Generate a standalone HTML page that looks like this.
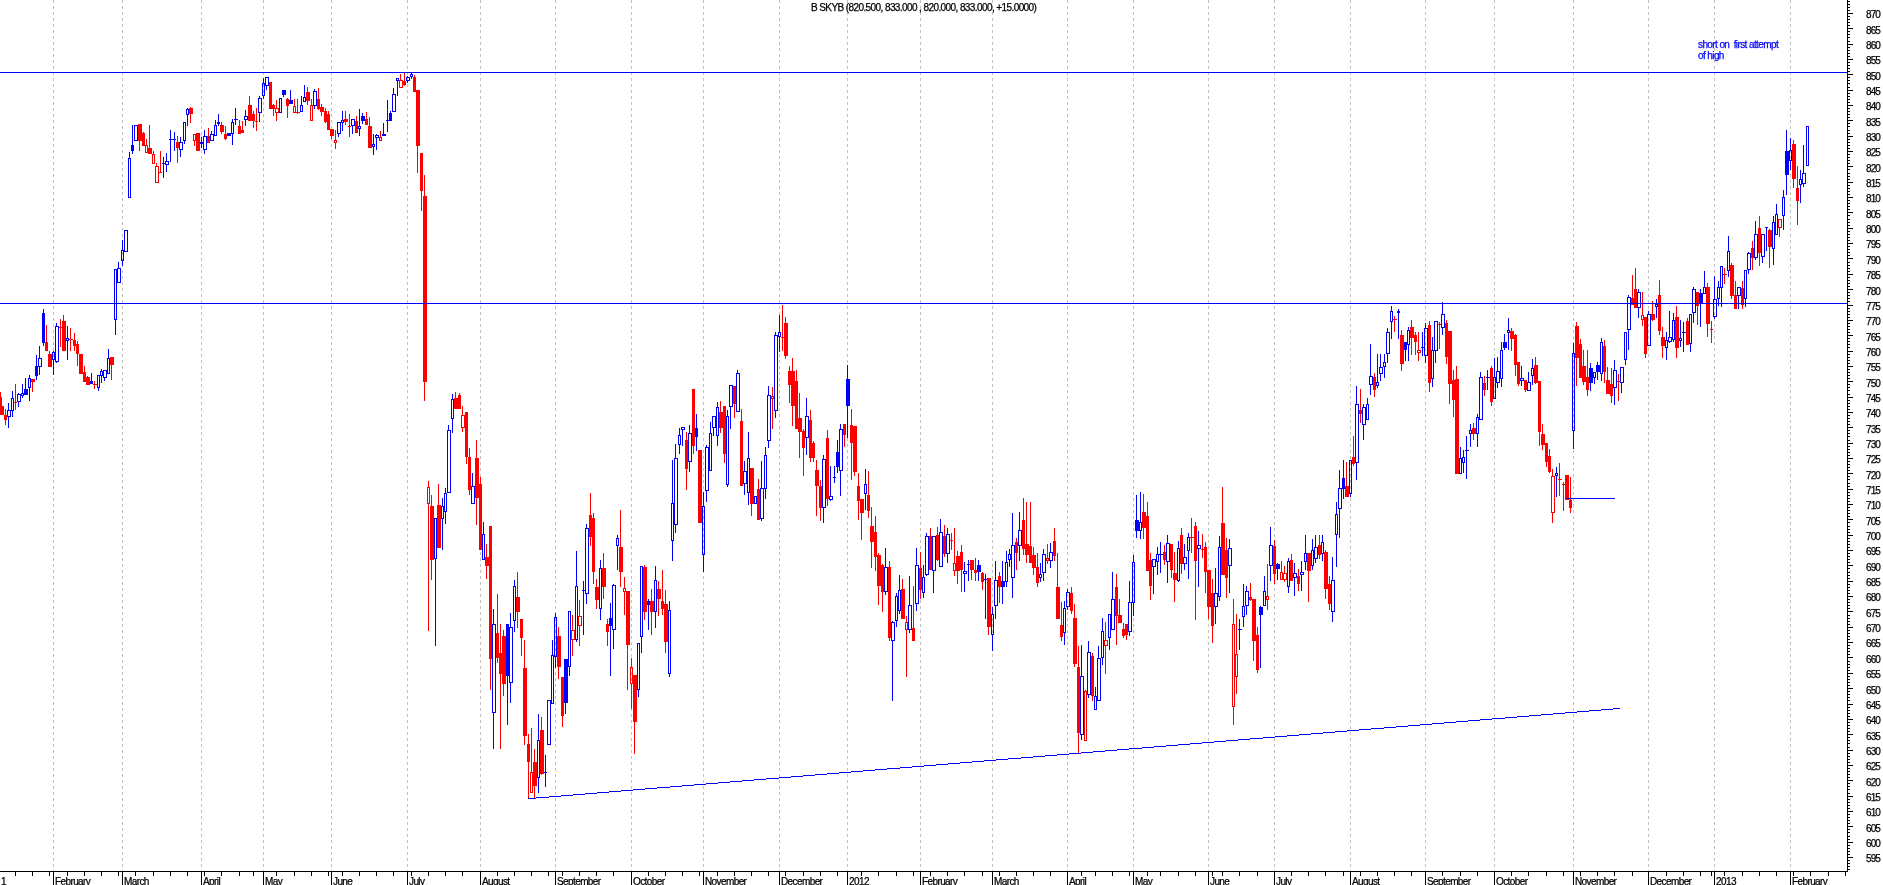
<!DOCTYPE html>
<html><head><meta charset="utf-8"><title>chart</title>
<style>
html,body{margin:0;padding:0;background:#fff;overflow:hidden;}
html{width:1883px;height:885px;}
body{width:1883px;height:885px;position:relative;overflow:hidden;font-family:"Liberation Sans",sans-serif;font-size:10px;color:#000;}
.yl,.xl,.ttl,.note{will-change:transform;-webkit-text-stroke:0.25px currentColor;}
.yl{position:absolute;left:1866px;width:17px;line-height:11px;letter-spacing:-0.9px;white-space:nowrap;}
.xl{position:absolute;top:876px;height:9px;line-height:11px;letter-spacing:-0.6px;white-space:nowrap;}
.ttl{position:absolute;left:811px;top:2px;line-height:11px;letter-spacing:-0.59px;white-space:nowrap;}
.note{position:absolute;left:1698px;top:39px;line-height:11px;letter-spacing:-0.6px;color:#0000ff;white-space:nowrap;}
</style></head><body>
<svg width="1883" height="885" viewBox="0 0 1883 885" shape-rendering="crispEdges" style="position:absolute;left:0;top:0">
<rect x="0" y="0" width="1883" height="885" fill="#fff"/>
<line x1="53.5" y1="0" x2="53.5" y2="871" stroke="#c0c0c0" stroke-width="1" stroke-dasharray="3 3"/>
<line x1="122.5" y1="0" x2="122.5" y2="871" stroke="#c0c0c0" stroke-width="1" stroke-dasharray="3 3"/>
<line x1="201.5" y1="0" x2="201.5" y2="871" stroke="#c0c0c0" stroke-width="1" stroke-dasharray="3 3"/>
<line x1="263.5" y1="0" x2="263.5" y2="871" stroke="#c0c0c0" stroke-width="1" stroke-dasharray="3 3"/>
<line x1="331.5" y1="0" x2="331.5" y2="871" stroke="#c0c0c0" stroke-width="1" stroke-dasharray="3 3"/>
<line x1="407.5" y1="0" x2="407.5" y2="871" stroke="#c0c0c0" stroke-width="1" stroke-dasharray="3 3"/>
<line x1="480.5" y1="0" x2="480.5" y2="871" stroke="#c0c0c0" stroke-width="1" stroke-dasharray="3 3"/>
<line x1="555.5" y1="0" x2="555.5" y2="871" stroke="#c0c0c0" stroke-width="1" stroke-dasharray="3 3"/>
<line x1="631.5" y1="0" x2="631.5" y2="871" stroke="#c0c0c0" stroke-width="1" stroke-dasharray="3 3"/>
<line x1="703.5" y1="0" x2="703.5" y2="871" stroke="#c0c0c0" stroke-width="1" stroke-dasharray="3 3"/>
<line x1="779.5" y1="0" x2="779.5" y2="871" stroke="#c0c0c0" stroke-width="1" stroke-dasharray="3 3"/>
<line x1="847.5" y1="0" x2="847.5" y2="871" stroke="#c0c0c0" stroke-width="1" stroke-dasharray="3 3"/>
<line x1="920.5" y1="0" x2="920.5" y2="871" stroke="#c0c0c0" stroke-width="1" stroke-dasharray="3 3"/>
<line x1="992.5" y1="0" x2="992.5" y2="871" stroke="#c0c0c0" stroke-width="1" stroke-dasharray="3 3"/>
<line x1="1067.5" y1="0" x2="1067.5" y2="871" stroke="#c0c0c0" stroke-width="1" stroke-dasharray="3 3"/>
<line x1="1133.5" y1="0" x2="1133.5" y2="871" stroke="#c0c0c0" stroke-width="1" stroke-dasharray="3 3"/>
<line x1="1208.5" y1="0" x2="1208.5" y2="871" stroke="#c0c0c0" stroke-width="1" stroke-dasharray="3 3"/>
<line x1="1274.5" y1="0" x2="1274.5" y2="871" stroke="#c0c0c0" stroke-width="1" stroke-dasharray="3 3"/>
<line x1="1350.5" y1="0" x2="1350.5" y2="871" stroke="#c0c0c0" stroke-width="1" stroke-dasharray="3 3"/>
<line x1="1425.5" y1="0" x2="1425.5" y2="871" stroke="#c0c0c0" stroke-width="1" stroke-dasharray="3 3"/>
<line x1="1494.5" y1="0" x2="1494.5" y2="871" stroke="#c0c0c0" stroke-width="1" stroke-dasharray="3 3"/>
<line x1="1573.5" y1="0" x2="1573.5" y2="871" stroke="#c0c0c0" stroke-width="1" stroke-dasharray="3 3"/>
<line x1="1648.5" y1="0" x2="1648.5" y2="871" stroke="#c0c0c0" stroke-width="1" stroke-dasharray="3 3"/>
<line x1="1714.5" y1="0" x2="1714.5" y2="871" stroke="#c0c0c0" stroke-width="1" stroke-dasharray="3 3"/>
<line x1="1790.5" y1="0" x2="1790.5" y2="871" stroke="#c0c0c0" stroke-width="1" stroke-dasharray="3 3"/>
<rect x="0" y="392" width="1" height="22" fill="#ff0000"/>
<rect x="1" y="397" width="1" height="17" fill="#ff0000"/>
<rect x="1" y="406" width="1" height="9" fill="#ff0000"/>
<rect x="0" y="406" width="4" height="9" fill="#ff0000"/>
<rect x="5" y="409" width="1" height="16" fill="#ff0000"/>
<rect x="4" y="415" width="3" height="5" fill="#ff0000"/>
<rect x="8" y="403" width="1" height="7" fill="#0000ff"/>
<rect x="8" y="417" width="1" height="11" fill="#0000ff"/>
<rect x="7.5" y="410.5" width="3" height="6" fill="none" stroke="#0000ff" stroke-width="1"/>
<rect x="12" y="391" width="1" height="7" fill="#0000ff"/>
<rect x="12" y="411" width="1" height="6" fill="#0000ff"/>
<rect x="11.5" y="398.5" width="2" height="12" fill="none" stroke="#0000ff" stroke-width="1"/>
<rect x="15" y="384" width="1" height="26" fill="#ff0000"/>
<rect x="14" y="402" width="3" height="1" fill="#ff0000"/>
<rect x="18" y="393" width="1" height="1" fill="#0000ff"/>
<rect x="18" y="402" width="1" height="5" fill="#0000ff"/>
<rect x="17.5" y="394.5" width="3" height="7" fill="none" stroke="#0000ff" stroke-width="1"/>
<rect x="22" y="384" width="1" height="9" fill="#0000ff"/>
<rect x="22" y="395" width="1" height="3" fill="#0000ff"/>
<rect x="21.5" y="393.5" width="2" height="2" fill="none" stroke="#0000ff" stroke-width="1"/>
<rect x="25" y="378" width="1" height="17" fill="#0000ff"/>
<rect x="24" y="389" width="4" height="6" fill="#0000ff"/>
<rect x="29" y="375" width="1" height="3" fill="#0000ff"/>
<rect x="29" y="388" width="1" height="13" fill="#0000ff"/>
<rect x="28.5" y="378.5" width="2" height="9" fill="none" stroke="#0000ff" stroke-width="1"/>
<rect x="32" y="379" width="1" height="13" fill="#ff0000"/>
<rect x="31" y="379" width="4" height="3" fill="#ff0000"/>
<rect x="36" y="355" width="1" height="25" fill="#0000ff"/>
<rect x="35" y="366" width="3" height="10" fill="#0000ff"/>
<rect x="39" y="346" width="1" height="12" fill="#0000ff"/>
<rect x="39" y="367" width="1" height="8" fill="#0000ff"/>
<rect x="38.5" y="358.5" width="3" height="8" fill="none" stroke="#0000ff" stroke-width="1"/>
<rect x="43" y="309" width="1" height="37" fill="#0000ff"/>
<rect x="42" y="313" width="3" height="30" fill="#0000ff"/>
<rect x="46" y="325" width="1" height="26" fill="#ff0000"/>
<rect x="45" y="342" width="3" height="9" fill="#ff0000"/>
<rect x="49" y="351" width="1" height="16" fill="#ff0000"/>
<rect x="48" y="354" width="4" height="13" fill="#ff0000"/>
<rect x="53" y="351" width="1" height="1" fill="#0000ff"/>
<rect x="53" y="360" width="1" height="15" fill="#0000ff"/>
<rect x="52.5" y="352.5" width="2" height="7" fill="none" stroke="#0000ff" stroke-width="1"/>
<rect x="56" y="323" width="1" height="3" fill="#0000ff"/>
<rect x="56" y="362" width="1" height="1" fill="#0000ff"/>
<rect x="55.5" y="326.5" width="3" height="35" fill="none" stroke="#0000ff" stroke-width="1"/>
<rect x="60" y="319" width="1" height="28" fill="#ff0000"/>
<rect x="59" y="327" width="3" height="1" fill="#ff0000"/>
<rect x="63" y="315" width="1" height="36" fill="#ff0000"/>
<rect x="62" y="321" width="4" height="30" fill="#ff0000"/>
<rect x="67" y="326" width="1" height="12" fill="#0000ff"/>
<rect x="67" y="341" width="1" height="19" fill="#0000ff"/>
<rect x="66.5" y="338.5" width="2" height="2" fill="none" stroke="#0000ff" stroke-width="1"/>
<rect x="70" y="328" width="1" height="23" fill="#ff0000"/>
<rect x="69" y="339" width="4" height="1" fill="#ff0000"/>
<rect x="74" y="333" width="1" height="18" fill="#ff0000"/>
<rect x="73" y="340" width="3" height="6" fill="#ff0000"/>
<rect x="77" y="341" width="1" height="25" fill="#ff0000"/>
<rect x="76" y="344" width="3" height="10" fill="#ff0000"/>
<rect x="80" y="354" width="1" height="20" fill="#ff0000"/>
<rect x="79" y="354" width="4" height="20" fill="#ff0000"/>
<rect x="84" y="366" width="1" height="16" fill="#ff0000"/>
<rect x="83" y="372" width="3" height="10" fill="#ff0000"/>
<rect x="87" y="376" width="1" height="9" fill="#ff0000"/>
<rect x="86" y="377" width="4" height="8" fill="#ff0000"/>
<rect x="91" y="373" width="1" height="11" fill="#0000ff"/>
<rect x="90" y="381" width="3" height="3" fill="#0000ff"/>
<rect x="94" y="381" width="1" height="8" fill="#ff0000"/>
<rect x="93" y="384" width="4" height="1" fill="#ff0000"/>
<rect x="98" y="388" width="1" height="3" fill="#0000ff"/>
<rect x="97.5" y="375.5" width="2" height="12" fill="none" stroke="#0000ff" stroke-width="1"/>
<rect x="101" y="369" width="1" height="2" fill="#0000ff"/>
<rect x="101" y="376" width="1" height="7" fill="#0000ff"/>
<rect x="100.5" y="371.5" width="2" height="4" fill="none" stroke="#0000ff" stroke-width="1"/>
<rect x="104" y="378" width="1" height="3" fill="#0000ff"/>
<rect x="103.5" y="370.5" width="3" height="7" fill="none" stroke="#0000ff" stroke-width="1"/>
<rect x="108" y="349" width="1" height="9" fill="#0000ff"/>
<rect x="107.5" y="358.5" width="2" height="15" fill="none" stroke="#0000ff" stroke-width="1"/>
<rect x="111" y="357" width="1" height="23" fill="#ff0000"/>
<rect x="110" y="357" width="4" height="8" fill="#ff0000"/>
<rect x="115" y="320" width="1" height="15" fill="#0000ff"/>
<rect x="114.5" y="269.5" width="2" height="50" fill="none" stroke="#0000ff" stroke-width="1"/>
<rect x="118" y="262" width="1" height="6" fill="#0000ff"/>
<rect x="117.5" y="268.5" width="3" height="14" fill="none" stroke="#0000ff" stroke-width="1"/>
<rect x="122" y="240" width="1" height="10" fill="#0000ff"/>
<rect x="122" y="261" width="1" height="5" fill="#0000ff"/>
<rect x="121.5" y="250.5" width="2" height="10" fill="none" stroke="#0000ff" stroke-width="1"/>
<rect x="124.5" y="230.5" width="3" height="21" fill="none" stroke="#0000ff" stroke-width="1"/>
<rect x="129" y="152" width="1" height="6" fill="#0000ff"/>
<rect x="128.5" y="158.5" width="2" height="39" fill="none" stroke="#0000ff" stroke-width="1"/>
<rect x="132" y="125" width="1" height="29" fill="#0000ff"/>
<rect x="131" y="145" width="3" height="6" fill="#0000ff"/>
<rect x="134.5" y="125.5" width="3" height="15" fill="none" stroke="#0000ff" stroke-width="1"/>
<rect x="139" y="124" width="1" height="27" fill="#ff0000"/>
<rect x="138" y="124" width="4" height="17" fill="#ff0000"/>
<rect x="143" y="132" width="1" height="14" fill="#ff0000"/>
<rect x="142" y="133" width="3" height="13" fill="#ff0000"/>
<rect x="146" y="139" width="1" height="6" fill="#ff0000"/>
<rect x="145.5" y="145.5" width="2" height="7" fill="none" stroke="#ff0000" stroke-width="1"/>
<rect x="149" y="125" width="1" height="29" fill="#ff0000"/>
<rect x="148" y="148" width="4" height="6" fill="#ff0000"/>
<rect x="153" y="151" width="1" height="3" fill="#ff0000"/>
<rect x="152.5" y="154.5" width="2" height="9" fill="none" stroke="#ff0000" stroke-width="1"/>
<rect x="156" y="163" width="1" height="3" fill="#ff0000"/>
<rect x="155.5" y="166.5" width="3" height="16" fill="none" stroke="#ff0000" stroke-width="1"/>
<rect x="160" y="151" width="1" height="22" fill="#ff0000"/>
<rect x="159" y="172" width="3" height="1" fill="#ff0000"/>
<rect x="163" y="157" width="1" height="21" fill="#0000ff"/>
<rect x="162" y="163" width="3" height="1" fill="#0000ff"/>
<rect x="166" y="153" width="1" height="8" fill="#0000ff"/>
<rect x="166" y="165" width="1" height="7" fill="#0000ff"/>
<rect x="165.5" y="161.5" width="3" height="3" fill="none" stroke="#0000ff" stroke-width="1"/>
<rect x="170" y="130" width="1" height="32" fill="#0000ff"/>
<rect x="169" y="139" width="4" height="1" fill="#0000ff"/>
<rect x="174" y="132" width="1" height="19" fill="#0000ff"/>
<rect x="173" y="139" width="3" height="1" fill="#0000ff"/>
<rect x="177" y="136" width="1" height="27" fill="#ff0000"/>
<rect x="176" y="142" width="3" height="6" fill="#ff0000"/>
<rect x="180" y="137" width="1" height="5" fill="#0000ff"/>
<rect x="180" y="150" width="1" height="7" fill="#0000ff"/>
<rect x="179.5" y="142.5" width="3" height="7" fill="none" stroke="#0000ff" stroke-width="1"/>
<rect x="184" y="141" width="1" height="3" fill="#0000ff"/>
<rect x="183.5" y="122.5" width="2" height="18" fill="none" stroke="#0000ff" stroke-width="1"/>
<rect x="187" y="108" width="1" height="1" fill="#0000ff"/>
<rect x="187" y="115" width="1" height="11" fill="#0000ff"/>
<rect x="186.5" y="109.5" width="2" height="5" fill="none" stroke="#0000ff" stroke-width="1"/>
<rect x="190" y="107" width="1" height="16" fill="#ff0000"/>
<rect x="189" y="108" width="4" height="6" fill="#ff0000"/>
<rect x="194" y="141" width="1" height="5" fill="#ff0000"/>
<rect x="193.5" y="134.5" width="2" height="6" fill="none" stroke="#ff0000" stroke-width="1"/>
<rect x="197" y="133" width="1" height="18" fill="#ff0000"/>
<rect x="196" y="133" width="4" height="18" fill="#ff0000"/>
<rect x="201" y="137" width="1" height="11" fill="#0000ff"/>
<rect x="200" y="142" width="3" height="2" fill="#0000ff"/>
<rect x="204" y="130" width="1" height="6" fill="#0000ff"/>
<rect x="204" y="150" width="1" height="4" fill="#0000ff"/>
<rect x="203.5" y="136.5" width="3" height="13" fill="none" stroke="#0000ff" stroke-width="1"/>
<rect x="208" y="128" width="1" height="15" fill="#ff0000"/>
<rect x="207" y="136" width="3" height="7" fill="#ff0000"/>
<rect x="211" y="131" width="1" height="3" fill="#0000ff"/>
<rect x="210.5" y="134.5" width="3" height="6" fill="none" stroke="#0000ff" stroke-width="1"/>
<rect x="215" y="120" width="1" height="5" fill="#0000ff"/>
<rect x="214.5" y="125.5" width="2" height="10" fill="none" stroke="#0000ff" stroke-width="1"/>
<rect x="218" y="114" width="1" height="12" fill="#0000ff"/>
<rect x="217" y="122" width="3" height="2" fill="#0000ff"/>
<rect x="221" y="122" width="1" height="12" fill="#ff0000"/>
<rect x="220" y="125" width="4" height="7" fill="#ff0000"/>
<rect x="225" y="126" width="1" height="14" fill="#ff0000"/>
<rect x="224" y="134" width="3" height="5" fill="#ff0000"/>
<rect x="228" y="133" width="1" height="3" fill="#0000ff"/>
<rect x="227" y="133" width="4" height="3" fill="#0000ff"/>
<rect x="232" y="119" width="1" height="3" fill="#0000ff"/>
<rect x="232" y="134" width="1" height="11" fill="#0000ff"/>
<rect x="231.5" y="122.5" width="2" height="11" fill="none" stroke="#0000ff" stroke-width="1"/>
<rect x="235" y="108" width="1" height="17" fill="#0000ff"/>
<rect x="234" y="119" width="4" height="1" fill="#0000ff"/>
<rect x="239" y="120" width="1" height="14" fill="#ff0000"/>
<rect x="238" y="126" width="3" height="8" fill="#ff0000"/>
<rect x="242" y="121" width="1" height="12" fill="#ff0000"/>
<rect x="241" y="130" width="3" height="3" fill="#ff0000"/>
<rect x="245" y="110" width="1" height="6" fill="#0000ff"/>
<rect x="245" y="120" width="1" height="6" fill="#0000ff"/>
<rect x="244.5" y="116.5" width="3" height="3" fill="none" stroke="#0000ff" stroke-width="1"/>
<rect x="249" y="96" width="1" height="25" fill="#ff0000"/>
<rect x="248" y="105" width="4" height="16" fill="#ff0000"/>
<rect x="253" y="111" width="1" height="17" fill="#ff0000"/>
<rect x="252" y="114" width="3" height="7" fill="#ff0000"/>
<rect x="256" y="108" width="1" height="23" fill="#ff0000"/>
<rect x="255" y="121" width="3" height="1" fill="#ff0000"/>
<rect x="259" y="96" width="1" height="2" fill="#0000ff"/>
<rect x="259" y="113" width="1" height="9" fill="#0000ff"/>
<rect x="258.5" y="98.5" width="3" height="14" fill="none" stroke="#0000ff" stroke-width="1"/>
<rect x="263" y="78" width="1" height="5" fill="#0000ff"/>
<rect x="263" y="96" width="1" height="3" fill="#0000ff"/>
<rect x="262.5" y="83.5" width="2" height="12" fill="none" stroke="#0000ff" stroke-width="1"/>
<rect x="266" y="86" width="1" height="4" fill="#0000ff"/>
<rect x="265.5" y="77.5" width="3" height="8" fill="none" stroke="#0000ff" stroke-width="1"/>
<rect x="270" y="82" width="1" height="27" fill="#ff0000"/>
<rect x="269" y="82" width="3" height="27" fill="#ff0000"/>
<rect x="273" y="104" width="1" height="12" fill="#ff0000"/>
<rect x="272" y="105" width="3" height="4" fill="#ff0000"/>
<rect x="276" y="100" width="1" height="8" fill="#ff0000"/>
<rect x="276" y="113" width="1" height="8" fill="#ff0000"/>
<rect x="275.5" y="108.5" width="3" height="4" fill="none" stroke="#ff0000" stroke-width="1"/>
<rect x="279.5" y="98.5" width="2" height="14" fill="none" stroke="#0000ff" stroke-width="1"/>
<rect x="283" y="90" width="1" height="7" fill="#0000ff"/>
<rect x="282" y="90" width="4" height="5" fill="#0000ff"/>
<rect x="287" y="98" width="1" height="20" fill="#ff0000"/>
<rect x="286" y="99" width="3" height="7" fill="#ff0000"/>
<rect x="290" y="90" width="1" height="14" fill="#0000ff"/>
<rect x="289" y="100" width="4" height="4" fill="#0000ff"/>
<rect x="294" y="99" width="1" height="7" fill="#ff0000"/>
<rect x="293.5" y="106.5" width="2" height="6" fill="none" stroke="#ff0000" stroke-width="1"/>
<rect x="297" y="99" width="1" height="15" fill="#ff0000"/>
<rect x="296" y="112" width="4" height="1" fill="#ff0000"/>
<rect x="301" y="96" width="1" height="9" fill="#0000ff"/>
<rect x="300.5" y="105.5" width="2" height="6" fill="none" stroke="#0000ff" stroke-width="1"/>
<rect x="304" y="85" width="1" height="12" fill="#0000ff"/>
<rect x="303.5" y="97.5" width="2" height="4" fill="none" stroke="#0000ff" stroke-width="1"/>
<rect x="307" y="87" width="1" height="18" fill="#ff0000"/>
<rect x="306" y="92" width="4" height="9" fill="#ff0000"/>
<rect x="311" y="99" width="1" height="6" fill="#ff0000"/>
<rect x="310.5" y="105.5" width="2" height="15" fill="none" stroke="#ff0000" stroke-width="1"/>
<rect x="314" y="89" width="1" height="2" fill="#0000ff"/>
<rect x="314" y="106" width="1" height="3" fill="#0000ff"/>
<rect x="313.5" y="91.5" width="3" height="14" fill="none" stroke="#0000ff" stroke-width="1"/>
<rect x="318" y="88" width="1" height="22" fill="#ff0000"/>
<rect x="317" y="99" width="3" height="10" fill="#ff0000"/>
<rect x="321" y="104" width="1" height="12" fill="#ff0000"/>
<rect x="320" y="107" width="4" height="5" fill="#ff0000"/>
<rect x="325" y="108" width="1" height="15" fill="#ff0000"/>
<rect x="324" y="111" width="3" height="11" fill="#ff0000"/>
<rect x="328" y="111" width="1" height="19" fill="#ff0000"/>
<rect x="327" y="114" width="3" height="16" fill="#ff0000"/>
<rect x="331" y="129" width="1" height="10" fill="#ff0000"/>
<rect x="330" y="129" width="4" height="7" fill="#ff0000"/>
<rect x="335" y="130" width="1" height="10" fill="#ff0000"/>
<rect x="335" y="143" width="1" height="6" fill="#ff0000"/>
<rect x="334.5" y="140.5" width="2" height="2" fill="none" stroke="#ff0000" stroke-width="1"/>
<rect x="338" y="134" width="1" height="3" fill="#0000ff"/>
<rect x="337.5" y="122.5" width="3" height="11" fill="none" stroke="#0000ff" stroke-width="1"/>
<rect x="342" y="111" width="1" height="9" fill="#0000ff"/>
<rect x="342" y="123" width="1" height="8" fill="#0000ff"/>
<rect x="341.5" y="120.5" width="2" height="2" fill="none" stroke="#0000ff" stroke-width="1"/>
<rect x="345" y="111" width="1" height="14" fill="#ff0000"/>
<rect x="344" y="119" width="4" height="3" fill="#ff0000"/>
<rect x="349" y="114" width="1" height="23" fill="#ff0000"/>
<rect x="348" y="126" width="3" height="1" fill="#ff0000"/>
<rect x="352" y="126" width="1" height="8" fill="#0000ff"/>
<rect x="351.5" y="119.5" width="3" height="6" fill="none" stroke="#0000ff" stroke-width="1"/>
<rect x="356" y="116" width="1" height="17" fill="#ff0000"/>
<rect x="355" y="121" width="3" height="12" fill="#ff0000"/>
<rect x="359" y="109" width="1" height="17" fill="#0000ff"/>
<rect x="359" y="128" width="1" height="8" fill="#0000ff"/>
<rect x="358.5" y="126.5" width="2" height="2" fill="none" stroke="#0000ff" stroke-width="1"/>
<rect x="362" y="113" width="1" height="11" fill="#0000ff"/>
<rect x="361" y="116" width="4" height="5" fill="#0000ff"/>
<rect x="366" y="112" width="1" height="13" fill="#ff0000"/>
<rect x="365" y="119" width="3" height="6" fill="#ff0000"/>
<rect x="369" y="117" width="1" height="31" fill="#ff0000"/>
<rect x="368" y="126" width="4" height="22" fill="#ff0000"/>
<rect x="373" y="134" width="1" height="10" fill="#0000ff"/>
<rect x="373" y="147" width="1" height="8" fill="#0000ff"/>
<rect x="372.5" y="144.5" width="2" height="2" fill="none" stroke="#0000ff" stroke-width="1"/>
<rect x="376" y="134" width="1" height="1" fill="#0000ff"/>
<rect x="376" y="138" width="1" height="12" fill="#0000ff"/>
<rect x="375.5" y="135.5" width="3" height="2" fill="none" stroke="#0000ff" stroke-width="1"/>
<rect x="380" y="131" width="1" height="6" fill="#ff0000"/>
<rect x="379.5" y="137.5" width="2" height="3" fill="none" stroke="#ff0000" stroke-width="1"/>
<rect x="383" y="123" width="1" height="13" fill="#0000ff"/>
<rect x="382" y="134" width="4" height="2" fill="#0000ff"/>
<rect x="387" y="100" width="1" height="32" fill="#0000ff"/>
<rect x="386" y="120" width="3" height="1" fill="#0000ff"/>
<rect x="390" y="111" width="1" height="10" fill="#0000ff"/>
<rect x="389" y="113" width="3" height="8" fill="#0000ff"/>
<rect x="393" y="88" width="1" height="6" fill="#0000ff"/>
<rect x="392.5" y="94.5" width="3" height="17" fill="none" stroke="#0000ff" stroke-width="1"/>
<rect x="397" y="81" width="1" height="15" fill="#0000ff"/>
<rect x="396.5" y="78.5" width="2" height="2" fill="none" stroke="#0000ff" stroke-width="1"/>
<rect x="400" y="74" width="1" height="6" fill="#ff0000"/>
<rect x="399.5" y="80.5" width="3" height="7" fill="none" stroke="#ff0000" stroke-width="1"/>
<rect x="404" y="73" width="1" height="13" fill="#ff0000"/>
<rect x="403" y="81" width="3" height="4" fill="#ff0000"/>
<rect x="407" y="76" width="1" height="1" fill="#0000ff"/>
<rect x="407" y="81" width="1" height="2" fill="#0000ff"/>
<rect x="406.5" y="77.5" width="3" height="3" fill="none" stroke="#0000ff" stroke-width="1"/>
<rect x="411" y="73" width="1" height="1" fill="#0000ff"/>
<rect x="411" y="77" width="1" height="2" fill="#0000ff"/>
<rect x="410.5" y="74.5" width="2" height="2" fill="none" stroke="#0000ff" stroke-width="1"/>
<rect x="414" y="75" width="1" height="17" fill="#ff0000"/>
<rect x="413" y="77" width="3" height="15" fill="#ff0000"/>
<rect x="417" y="90" width="1" height="83" fill="#ff0000"/>
<rect x="416" y="90" width="4" height="56" fill="#ff0000"/>
<rect x="421" y="153" width="1" height="58" fill="#ff0000"/>
<rect x="420" y="153" width="3" height="38" fill="#ff0000"/>
<rect x="424" y="175" width="1" height="226" fill="#ff0000"/>
<rect x="423" y="196" width="4" height="186" fill="#ff0000"/>
<rect x="428" y="481" width="1" height="6" fill="#ff0000"/>
<rect x="428" y="504" width="1" height="127" fill="#ff0000"/>
<rect x="427.5" y="487.5" width="2" height="16" fill="none" stroke="#ff0000" stroke-width="1"/>
<rect x="431" y="495" width="1" height="85" fill="#ff0000"/>
<rect x="430" y="506" width="4" height="54" fill="#ff0000"/>
<rect x="435" y="559" width="1" height="87" fill="#0000ff"/>
<rect x="434.5" y="518.5" width="2" height="40" fill="none" stroke="#0000ff" stroke-width="1"/>
<rect x="438" y="484" width="1" height="64" fill="#ff0000"/>
<rect x="437" y="505" width="4" height="43" fill="#ff0000"/>
<rect x="442" y="498" width="1" height="8" fill="#0000ff"/>
<rect x="442" y="519" width="1" height="31" fill="#0000ff"/>
<rect x="441.5" y="506.5" width="2" height="12" fill="none" stroke="#0000ff" stroke-width="1"/>
<rect x="445" y="488" width="1" height="5" fill="#0000ff"/>
<rect x="445" y="512" width="1" height="12" fill="#0000ff"/>
<rect x="444.5" y="493.5" width="2" height="18" fill="none" stroke="#0000ff" stroke-width="1"/>
<rect x="448" y="425" width="1" height="5" fill="#0000ff"/>
<rect x="447.5" y="430.5" width="3" height="62" fill="none" stroke="#0000ff" stroke-width="1"/>
<rect x="452" y="394" width="1" height="5" fill="#0000ff"/>
<rect x="452" y="419" width="1" height="14" fill="#0000ff"/>
<rect x="451.5" y="399.5" width="2" height="19" fill="none" stroke="#0000ff" stroke-width="1"/>
<rect x="455" y="392" width="1" height="17" fill="#ff0000"/>
<rect x="454" y="398" width="4" height="11" fill="#ff0000"/>
<rect x="459" y="393" width="1" height="16" fill="#ff0000"/>
<rect x="458" y="395" width="3" height="14" fill="#ff0000"/>
<rect x="462" y="406" width="1" height="9" fill="#ff0000"/>
<rect x="462" y="428" width="1" height="4" fill="#ff0000"/>
<rect x="461.5" y="415.5" width="3" height="12" fill="none" stroke="#ff0000" stroke-width="1"/>
<rect x="466" y="412" width="1" height="52" fill="#ff0000"/>
<rect x="465" y="412" width="3" height="45" fill="#ff0000"/>
<rect x="469" y="448" width="1" height="47" fill="#ff0000"/>
<rect x="468" y="457" width="3" height="33" fill="#ff0000"/>
<rect x="472" y="473" width="1" height="13" fill="#0000ff"/>
<rect x="471.5" y="486.5" width="3" height="17" fill="none" stroke="#0000ff" stroke-width="1"/>
<rect x="476" y="440" width="1" height="85" fill="#ff0000"/>
<rect x="475" y="458" width="4" height="40" fill="#ff0000"/>
<rect x="480" y="477" width="1" height="73" fill="#ff0000"/>
<rect x="479" y="484" width="3" height="66" fill="#ff0000"/>
<rect x="483" y="522" width="1" height="12" fill="#0000ff"/>
<rect x="482.5" y="534.5" width="2" height="25" fill="none" stroke="#0000ff" stroke-width="1"/>
<rect x="486" y="544" width="1" height="35" fill="#ff0000"/>
<rect x="485" y="557" width="4" height="9" fill="#ff0000"/>
<rect x="490" y="526" width="1" height="164" fill="#ff0000"/>
<rect x="489" y="526" width="3" height="133" fill="#ff0000"/>
<rect x="493" y="609" width="1" height="15" fill="#0000ff"/>
<rect x="493" y="713" width="1" height="36" fill="#0000ff"/>
<rect x="492.5" y="624.5" width="3" height="88" fill="none" stroke="#0000ff" stroke-width="1"/>
<rect x="497" y="594" width="1" height="69" fill="#ff0000"/>
<rect x="496" y="633" width="3" height="25" fill="#ff0000"/>
<rect x="500" y="624" width="1" height="125" fill="#ff0000"/>
<rect x="499" y="653" width="3" height="21" fill="#ff0000"/>
<rect x="503" y="630" width="1" height="66" fill="#ff0000"/>
<rect x="502" y="636" width="4" height="48" fill="#ff0000"/>
<rect x="507" y="624" width="1" height="101" fill="#0000ff"/>
<rect x="506" y="624" width="3" height="52" fill="#0000ff"/>
<rect x="510" y="613" width="1" height="14" fill="#0000ff"/>
<rect x="510" y="683" width="1" height="20" fill="#0000ff"/>
<rect x="509.5" y="627.5" width="3" height="55" fill="none" stroke="#0000ff" stroke-width="1"/>
<rect x="514" y="580" width="1" height="6" fill="#0000ff"/>
<rect x="514" y="621" width="1" height="11" fill="#0000ff"/>
<rect x="513.5" y="586.5" width="2" height="34" fill="none" stroke="#0000ff" stroke-width="1"/>
<rect x="517" y="572" width="1" height="56" fill="#ff0000"/>
<rect x="516" y="597" width="4" height="15" fill="#ff0000"/>
<rect x="521" y="619" width="1" height="37" fill="#ff0000"/>
<rect x="520" y="619" width="3" height="19" fill="#ff0000"/>
<rect x="524" y="640" width="1" height="105" fill="#ff0000"/>
<rect x="523" y="668" width="4" height="68" fill="#ff0000"/>
<rect x="528" y="734" width="1" height="65" fill="#ff0000"/>
<rect x="527" y="744" width="3" height="18" fill="#ff0000"/>
<rect x="531" y="728" width="1" height="44" fill="#ff0000"/>
<rect x="530.5" y="772.5" width="2" height="20" fill="none" stroke="#ff0000" stroke-width="1"/>
<rect x="534" y="749" width="1" height="50" fill="#ff0000"/>
<rect x="533" y="762" width="4" height="24" fill="#ff0000"/>
<rect x="538" y="714" width="1" height="26" fill="#0000ff"/>
<rect x="538" y="778" width="1" height="15" fill="#0000ff"/>
<rect x="537.5" y="740.5" width="2" height="37" fill="none" stroke="#0000ff" stroke-width="1"/>
<rect x="541" y="717" width="1" height="58" fill="#ff0000"/>
<rect x="540" y="730" width="4" height="44" fill="#ff0000"/>
<rect x="545" y="755" width="1" height="32" fill="#0000ff"/>
<rect x="544" y="772" width="3" height="1" fill="#0000ff"/>
<rect x="547.5" y="700.5" width="3" height="44" fill="none" stroke="#0000ff" stroke-width="1"/>
<rect x="552" y="640" width="1" height="15" fill="#0000ff"/>
<rect x="551.5" y="655.5" width="2" height="48" fill="none" stroke="#0000ff" stroke-width="1"/>
<rect x="555" y="613" width="1" height="4" fill="#0000ff"/>
<rect x="555" y="657" width="1" height="11" fill="#0000ff"/>
<rect x="554.5" y="617.5" width="2" height="39" fill="none" stroke="#0000ff" stroke-width="1"/>
<rect x="558" y="627" width="1" height="52" fill="#ff0000"/>
<rect x="557" y="636" width="4" height="31" fill="#ff0000"/>
<rect x="562" y="677" width="1" height="50" fill="#ff0000"/>
<rect x="561" y="677" width="3" height="39" fill="#ff0000"/>
<rect x="565" y="659" width="1" height="55" fill="#0000ff"/>
<rect x="564" y="659" width="4" height="44" fill="#0000ff"/>
<rect x="569" y="667" width="1" height="9" fill="#0000ff"/>
<rect x="568.5" y="611.5" width="2" height="55" fill="none" stroke="#0000ff" stroke-width="1"/>
<rect x="572" y="615" width="1" height="15" fill="#ff0000"/>
<rect x="572" y="640" width="1" height="16" fill="#ff0000"/>
<rect x="571.5" y="630.5" width="3" height="9" fill="none" stroke="#ff0000" stroke-width="1"/>
<rect x="576" y="551" width="1" height="35" fill="#0000ff"/>
<rect x="576" y="640" width="1" height="2" fill="#0000ff"/>
<rect x="575.5" y="586.5" width="2" height="53" fill="none" stroke="#0000ff" stroke-width="1"/>
<rect x="579" y="600" width="1" height="16" fill="#ff0000"/>
<rect x="579" y="626" width="1" height="20" fill="#ff0000"/>
<rect x="578.5" y="616.5" width="3" height="9" fill="none" stroke="#ff0000" stroke-width="1"/>
<rect x="583" y="581" width="1" height="54" fill="#0000ff"/>
<rect x="582" y="590" width="3" height="1" fill="#0000ff"/>
<rect x="586" y="524" width="1" height="4" fill="#0000ff"/>
<rect x="586" y="594" width="1" height="10" fill="#0000ff"/>
<rect x="585.5" y="528.5" width="3" height="65" fill="none" stroke="#0000ff" stroke-width="1"/>
<rect x="590" y="493" width="1" height="53" fill="#ff0000"/>
<rect x="589" y="515" width="3" height="22" fill="#ff0000"/>
<rect x="593" y="513" width="1" height="71" fill="#ff0000"/>
<rect x="592" y="518" width="3" height="54" fill="#ff0000"/>
<rect x="596" y="579" width="1" height="30" fill="#ff0000"/>
<rect x="595" y="587" width="4" height="13" fill="#ff0000"/>
<rect x="600" y="560" width="1" height="8" fill="#0000ff"/>
<rect x="600" y="609" width="1" height="11" fill="#0000ff"/>
<rect x="599.5" y="568.5" width="2" height="40" fill="none" stroke="#0000ff" stroke-width="1"/>
<rect x="603" y="553" width="1" height="46" fill="#ff0000"/>
<rect x="602" y="568" width="4" height="19" fill="#ff0000"/>
<rect x="607" y="619" width="1" height="27" fill="#ff0000"/>
<rect x="606" y="624" width="3" height="8" fill="#ff0000"/>
<rect x="610" y="603" width="1" height="73" fill="#0000ff"/>
<rect x="609" y="618" width="3" height="8" fill="#0000ff"/>
<rect x="613" y="584" width="1" height="1" fill="#0000ff"/>
<rect x="613" y="630" width="1" height="19" fill="#0000ff"/>
<rect x="612.5" y="585.5" width="3" height="44" fill="none" stroke="#0000ff" stroke-width="1"/>
<rect x="617" y="535" width="1" height="3" fill="#0000ff"/>
<rect x="617" y="546" width="1" height="24" fill="#0000ff"/>
<rect x="616.5" y="538.5" width="2" height="7" fill="none" stroke="#0000ff" stroke-width="1"/>
<rect x="620" y="510" width="1" height="77" fill="#ff0000"/>
<rect x="619" y="547" width="4" height="25" fill="#ff0000"/>
<rect x="624" y="577" width="1" height="11" fill="#ff0000"/>
<rect x="624" y="592" width="1" height="23" fill="#ff0000"/>
<rect x="623.5" y="588.5" width="2" height="3" fill="none" stroke="#ff0000" stroke-width="1"/>
<rect x="627" y="591" width="1" height="99" fill="#ff0000"/>
<rect x="626" y="591" width="4" height="54" fill="#ff0000"/>
<rect x="631" y="658" width="1" height="9" fill="#ff0000"/>
<rect x="631" y="684" width="1" height="25" fill="#ff0000"/>
<rect x="630.5" y="667.5" width="2" height="16" fill="none" stroke="#ff0000" stroke-width="1"/>
<rect x="634" y="675" width="1" height="79" fill="#ff0000"/>
<rect x="633" y="675" width="4" height="47" fill="#ff0000"/>
<rect x="638" y="690" width="1" height="7" fill="#0000ff"/>
<rect x="637.5" y="643.5" width="2" height="46" fill="none" stroke="#0000ff" stroke-width="1"/>
<rect x="641" y="637" width="1" height="16" fill="#0000ff"/>
<rect x="640.5" y="566.5" width="2" height="70" fill="none" stroke="#0000ff" stroke-width="1"/>
<rect x="644" y="565" width="1" height="55" fill="#ff0000"/>
<rect x="643" y="567" width="4" height="45" fill="#ff0000"/>
<rect x="648" y="599" width="1" height="31" fill="#0000ff"/>
<rect x="647" y="601" width="3" height="4" fill="#0000ff"/>
<rect x="651" y="589" width="1" height="46" fill="#ff0000"/>
<rect x="650" y="601" width="4" height="11" fill="#ff0000"/>
<rect x="655" y="566" width="1" height="14" fill="#0000ff"/>
<rect x="655" y="612" width="1" height="16" fill="#0000ff"/>
<rect x="654.5" y="580.5" width="2" height="31" fill="none" stroke="#0000ff" stroke-width="1"/>
<rect x="658" y="581" width="1" height="35" fill="#ff0000"/>
<rect x="657" y="589" width="4" height="10" fill="#ff0000"/>
<rect x="662" y="570" width="1" height="45" fill="#ff0000"/>
<rect x="661" y="601" width="3" height="8" fill="#ff0000"/>
<rect x="665" y="590" width="1" height="63" fill="#ff0000"/>
<rect x="664" y="604" width="4" height="38" fill="#ff0000"/>
<rect x="669" y="601" width="1" height="9" fill="#0000ff"/>
<rect x="669" y="674" width="1" height="3" fill="#0000ff"/>
<rect x="668.5" y="610.5" width="2" height="63" fill="none" stroke="#0000ff" stroke-width="1"/>
<rect x="672" y="460" width="1" height="43" fill="#0000ff"/>
<rect x="672" y="541" width="1" height="20" fill="#0000ff"/>
<rect x="671.5" y="503.5" width="2" height="37" fill="none" stroke="#0000ff" stroke-width="1"/>
<rect x="675" y="444" width="1" height="14" fill="#0000ff"/>
<rect x="675" y="525" width="1" height="8" fill="#0000ff"/>
<rect x="674.5" y="458.5" width="3" height="66" fill="none" stroke="#0000ff" stroke-width="1"/>
<rect x="679" y="428" width="1" height="7" fill="#0000ff"/>
<rect x="679" y="445" width="1" height="9" fill="#0000ff"/>
<rect x="678.5" y="435.5" width="2" height="9" fill="none" stroke="#0000ff" stroke-width="1"/>
<rect x="682" y="430" width="1" height="16" fill="#0000ff"/>
<rect x="681.5" y="427.5" width="3" height="2" fill="none" stroke="#0000ff" stroke-width="1"/>
<rect x="686" y="432" width="1" height="58" fill="#ff0000"/>
<rect x="685" y="440" width="3" height="29" fill="#ff0000"/>
<rect x="689" y="425" width="1" height="8" fill="#0000ff"/>
<rect x="689" y="462" width="1" height="10" fill="#0000ff"/>
<rect x="688.5" y="433.5" width="3" height="28" fill="none" stroke="#0000ff" stroke-width="1"/>
<rect x="693" y="389" width="1" height="65" fill="#ff0000"/>
<rect x="692" y="389" width="3" height="57" fill="#ff0000"/>
<rect x="696" y="414" width="1" height="37" fill="#0000ff"/>
<rect x="695" y="428" width="3" height="9" fill="#0000ff"/>
<rect x="699" y="450" width="1" height="73" fill="#ff0000"/>
<rect x="698" y="450" width="4" height="73" fill="#ff0000"/>
<rect x="703" y="492" width="1" height="14" fill="#0000ff"/>
<rect x="703" y="555" width="1" height="17" fill="#0000ff"/>
<rect x="702.5" y="506.5" width="2" height="48" fill="none" stroke="#0000ff" stroke-width="1"/>
<rect x="706" y="445" width="1" height="2" fill="#0000ff"/>
<rect x="706" y="491" width="1" height="11" fill="#0000ff"/>
<rect x="705.5" y="447.5" width="3" height="43" fill="none" stroke="#0000ff" stroke-width="1"/>
<rect x="710" y="422" width="1" height="11" fill="#0000ff"/>
<rect x="709.5" y="433.5" width="2" height="37" fill="none" stroke="#0000ff" stroke-width="1"/>
<rect x="713" y="428" width="1" height="8" fill="#0000ff"/>
<rect x="712.5" y="416.5" width="3" height="11" fill="none" stroke="#0000ff" stroke-width="1"/>
<rect x="717" y="402" width="1" height="5" fill="#0000ff"/>
<rect x="717" y="436" width="1" height="10" fill="#0000ff"/>
<rect x="716.5" y="407.5" width="2" height="28" fill="none" stroke="#0000ff" stroke-width="1"/>
<rect x="720" y="401" width="1" height="32" fill="#ff0000"/>
<rect x="719" y="412" width="4" height="16" fill="#ff0000"/>
<rect x="724" y="406" width="1" height="57" fill="#ff0000"/>
<rect x="723" y="406" width="3" height="48" fill="#ff0000"/>
<rect x="727" y="410" width="1" height="6" fill="#0000ff"/>
<rect x="727" y="485" width="1" height="2" fill="#0000ff"/>
<rect x="726.5" y="416.5" width="2" height="68" fill="none" stroke="#0000ff" stroke-width="1"/>
<rect x="730" y="407" width="1" height="22" fill="#0000ff"/>
<rect x="729.5" y="385.5" width="3" height="21" fill="none" stroke="#0000ff" stroke-width="1"/>
<rect x="734" y="386" width="1" height="32" fill="#ff0000"/>
<rect x="733" y="386" width="3" height="18" fill="#ff0000"/>
<rect x="737" y="370" width="1" height="3" fill="#0000ff"/>
<rect x="736.5" y="373.5" width="3" height="38" fill="none" stroke="#0000ff" stroke-width="1"/>
<rect x="741" y="409" width="1" height="77" fill="#ff0000"/>
<rect x="740" y="421" width="3" height="65" fill="#ff0000"/>
<rect x="744" y="461" width="1" height="10" fill="#0000ff"/>
<rect x="744" y="484" width="1" height="11" fill="#0000ff"/>
<rect x="743.5" y="471.5" width="3" height="12" fill="none" stroke="#0000ff" stroke-width="1"/>
<rect x="748" y="432" width="1" height="26" fill="#0000ff"/>
<rect x="748" y="493" width="1" height="12" fill="#0000ff"/>
<rect x="747.5" y="458.5" width="2" height="34" fill="none" stroke="#0000ff" stroke-width="1"/>
<rect x="751" y="468" width="1" height="48" fill="#ff0000"/>
<rect x="750" y="468" width="4" height="36" fill="#ff0000"/>
<rect x="754.5" y="496.5" width="2" height="7" fill="none" stroke="#0000ff" stroke-width="1"/>
<rect x="758" y="479" width="1" height="41" fill="#ff0000"/>
<rect x="757" y="489" width="3" height="31" fill="#ff0000"/>
<rect x="761" y="461" width="1" height="27" fill="#0000ff"/>
<rect x="761" y="519" width="1" height="2" fill="#0000ff"/>
<rect x="760.5" y="488.5" width="3" height="30" fill="none" stroke="#0000ff" stroke-width="1"/>
<rect x="765" y="447" width="1" height="8" fill="#0000ff"/>
<rect x="765" y="489" width="1" height="10" fill="#0000ff"/>
<rect x="764.5" y="455.5" width="2" height="33" fill="none" stroke="#0000ff" stroke-width="1"/>
<rect x="768" y="386" width="1" height="9" fill="#0000ff"/>
<rect x="768" y="441" width="1" height="7" fill="#0000ff"/>
<rect x="767.5" y="395.5" width="3" height="45" fill="none" stroke="#0000ff" stroke-width="1"/>
<rect x="772" y="387" width="1" height="9" fill="#ff0000"/>
<rect x="772" y="399" width="1" height="30" fill="#ff0000"/>
<rect x="771.5" y="396.5" width="2" height="2" fill="none" stroke="#ff0000" stroke-width="1"/>
<rect x="775" y="332" width="1" height="3" fill="#0000ff"/>
<rect x="775" y="411" width="1" height="7" fill="#0000ff"/>
<rect x="774.5" y="335.5" width="3" height="75" fill="none" stroke="#0000ff" stroke-width="1"/>
<rect x="779" y="315" width="1" height="17" fill="#0000ff"/>
<rect x="779" y="337" width="1" height="15" fill="#0000ff"/>
<rect x="778.5" y="332.5" width="2" height="4" fill="none" stroke="#0000ff" stroke-width="1"/>
<rect x="782" y="305" width="1" height="46" fill="#ff0000"/>
<rect x="781" y="337" width="3" height="1" fill="#ff0000"/>
<rect x="785" y="317" width="1" height="42" fill="#ff0000"/>
<rect x="784" y="323" width="4" height="33" fill="#ff0000"/>
<rect x="789" y="366" width="1" height="37" fill="#ff0000"/>
<rect x="788" y="371" width="3" height="14" fill="#ff0000"/>
<rect x="792" y="358" width="1" height="68" fill="#ff0000"/>
<rect x="791" y="371" width="4" height="35" fill="#ff0000"/>
<rect x="796" y="370" width="1" height="59" fill="#ff0000"/>
<rect x="795" y="381" width="3" height="48" fill="#ff0000"/>
<rect x="799" y="393" width="1" height="65" fill="#ff0000"/>
<rect x="798" y="418" width="4" height="14" fill="#ff0000"/>
<rect x="803" y="429" width="1" height="47" fill="#ff0000"/>
<rect x="802" y="431" width="3" height="17" fill="#ff0000"/>
<rect x="806" y="398" width="1" height="18" fill="#0000ff"/>
<rect x="806" y="438" width="1" height="17" fill="#0000ff"/>
<rect x="805.5" y="416.5" width="3" height="21" fill="none" stroke="#0000ff" stroke-width="1"/>
<rect x="810" y="410" width="1" height="52" fill="#ff0000"/>
<rect x="809" y="420" width="3" height="38" fill="#ff0000"/>
<rect x="813" y="441" width="1" height="21" fill="#ff0000"/>
<rect x="812" y="443" width="3" height="15" fill="#ff0000"/>
<rect x="816" y="460" width="1" height="56" fill="#ff0000"/>
<rect x="815" y="470" width="4" height="16" fill="#ff0000"/>
<rect x="820" y="480" width="1" height="41" fill="#ff0000"/>
<rect x="819" y="486" width="3" height="22" fill="#ff0000"/>
<rect x="823" y="455" width="1" height="4" fill="#0000ff"/>
<rect x="823" y="508" width="1" height="15" fill="#0000ff"/>
<rect x="822.5" y="459.5" width="3" height="48" fill="none" stroke="#0000ff" stroke-width="1"/>
<rect x="827" y="430" width="1" height="76" fill="#ff0000"/>
<rect x="826" y="438" width="3" height="61" fill="#ff0000"/>
<rect x="830" y="466" width="1" height="30" fill="#0000ff"/>
<rect x="830" y="500" width="1" height="1" fill="#0000ff"/>
<rect x="829.5" y="496.5" width="3" height="3" fill="none" stroke="#0000ff" stroke-width="1"/>
<rect x="834" y="466" width="1" height="17" fill="#0000ff"/>
<rect x="833" y="477" width="3" height="1" fill="#0000ff"/>
<rect x="837" y="440" width="1" height="33" fill="#0000ff"/>
<rect x="836" y="452" width="3" height="15" fill="#0000ff"/>
<rect x="840" y="424" width="1" height="5" fill="#0000ff"/>
<rect x="840" y="471" width="1" height="25" fill="#0000ff"/>
<rect x="839.5" y="429.5" width="3" height="41" fill="none" stroke="#0000ff" stroke-width="1"/>
<rect x="844" y="424" width="1" height="23" fill="#ff0000"/>
<rect x="843" y="424" width="3" height="11" fill="#ff0000"/>
<rect x="847" y="365" width="1" height="73" fill="#0000ff"/>
<rect x="846" y="379" width="4" height="27" fill="#0000ff"/>
<rect x="851" y="409" width="1" height="71" fill="#ff0000"/>
<rect x="850" y="425" width="3" height="18" fill="#ff0000"/>
<rect x="854" y="426" width="1" height="50" fill="#ff0000"/>
<rect x="853" y="426" width="4" height="46" fill="#ff0000"/>
<rect x="858" y="473" width="1" height="47" fill="#ff0000"/>
<rect x="857" y="486" width="3" height="15" fill="#ff0000"/>
<rect x="861" y="499" width="1" height="41" fill="#ff0000"/>
<rect x="860" y="499" width="4" height="14" fill="#ff0000"/>
<rect x="865" y="469" width="1" height="15" fill="#0000ff"/>
<rect x="865" y="494" width="1" height="16" fill="#0000ff"/>
<rect x="864.5" y="484.5" width="2" height="9" fill="none" stroke="#0000ff" stroke-width="1"/>
<rect x="868" y="471" width="1" height="47" fill="#ff0000"/>
<rect x="867" y="495" width="3" height="16" fill="#ff0000"/>
<rect x="871" y="507" width="1" height="61" fill="#ff0000"/>
<rect x="870" y="526" width="4" height="16" fill="#ff0000"/>
<rect x="875" y="516" width="1" height="55" fill="#ff0000"/>
<rect x="874" y="532" width="3" height="25" fill="#ff0000"/>
<rect x="878" y="553" width="1" height="52" fill="#ff0000"/>
<rect x="877" y="555" width="4" height="31" fill="#ff0000"/>
<rect x="882" y="564" width="1" height="48" fill="#ff0000"/>
<rect x="881" y="565" width="3" height="27" fill="#ff0000"/>
<rect x="885" y="548" width="1" height="19" fill="#0000ff"/>
<rect x="885" y="592" width="1" height="3" fill="#0000ff"/>
<rect x="884.5" y="567.5" width="3" height="24" fill="none" stroke="#0000ff" stroke-width="1"/>
<rect x="889" y="561" width="1" height="80" fill="#ff0000"/>
<rect x="888" y="567" width="3" height="71" fill="#ff0000"/>
<rect x="892" y="621" width="1" height="1" fill="#0000ff"/>
<rect x="892" y="641" width="1" height="60" fill="#0000ff"/>
<rect x="891.5" y="622.5" width="3" height="18" fill="none" stroke="#0000ff" stroke-width="1"/>
<rect x="896" y="593" width="1" height="3" fill="#0000ff"/>
<rect x="896" y="621" width="1" height="6" fill="#0000ff"/>
<rect x="895.5" y="596.5" width="2" height="24" fill="none" stroke="#0000ff" stroke-width="1"/>
<rect x="899" y="575" width="1" height="15" fill="#0000ff"/>
<rect x="899" y="611" width="1" height="3" fill="#0000ff"/>
<rect x="898.5" y="590.5" width="2" height="20" fill="none" stroke="#0000ff" stroke-width="1"/>
<rect x="902" y="579" width="1" height="40" fill="#ff0000"/>
<rect x="901" y="589" width="4" height="30" fill="#ff0000"/>
<rect x="906" y="616" width="1" height="6" fill="#ff0000"/>
<rect x="906" y="630" width="1" height="47" fill="#ff0000"/>
<rect x="905.5" y="622.5" width="2" height="7" fill="none" stroke="#ff0000" stroke-width="1"/>
<rect x="909" y="576" width="1" height="29" fill="#0000ff"/>
<rect x="909" y="630" width="1" height="3" fill="#0000ff"/>
<rect x="908.5" y="605.5" width="3" height="24" fill="none" stroke="#0000ff" stroke-width="1"/>
<rect x="913" y="586" width="1" height="55" fill="#ff0000"/>
<rect x="912" y="628" width="3" height="13" fill="#ff0000"/>
<rect x="916" y="548" width="1" height="17" fill="#0000ff"/>
<rect x="916" y="604" width="1" height="7" fill="#0000ff"/>
<rect x="915.5" y="565.5" width="3" height="38" fill="none" stroke="#0000ff" stroke-width="1"/>
<rect x="920" y="552" width="1" height="47" fill="#ff0000"/>
<rect x="919" y="568" width="3" height="22" fill="#ff0000"/>
<rect x="923" y="565" width="1" height="12" fill="#0000ff"/>
<rect x="923" y="593" width="1" height="5" fill="#0000ff"/>
<rect x="922.5" y="577.5" width="2" height="15" fill="none" stroke="#0000ff" stroke-width="1"/>
<rect x="926" y="533" width="1" height="3" fill="#0000ff"/>
<rect x="926" y="575" width="1" height="1" fill="#0000ff"/>
<rect x="925.5" y="536.5" width="3" height="38" fill="none" stroke="#0000ff" stroke-width="1"/>
<rect x="930" y="528" width="1" height="42" fill="#ff0000"/>
<rect x="929" y="536" width="3" height="34" fill="#ff0000"/>
<rect x="933" y="571" width="1" height="22" fill="#0000ff"/>
<rect x="932.5" y="536.5" width="3" height="34" fill="none" stroke="#0000ff" stroke-width="1"/>
<rect x="937" y="527" width="1" height="34" fill="#ff0000"/>
<rect x="936" y="535" width="3" height="25" fill="#ff0000"/>
<rect x="940" y="519" width="1" height="13" fill="#0000ff"/>
<rect x="939.5" y="532.5" width="3" height="34" fill="none" stroke="#0000ff" stroke-width="1"/>
<rect x="944" y="525" width="1" height="32" fill="#ff0000"/>
<rect x="943" y="536" width="3" height="18" fill="#ff0000"/>
<rect x="947" y="528" width="1" height="6" fill="#0000ff"/>
<rect x="947" y="554" width="1" height="9" fill="#0000ff"/>
<rect x="946.5" y="534.5" width="3" height="19" fill="none" stroke="#0000ff" stroke-width="1"/>
<rect x="951" y="533" width="1" height="17" fill="#ff0000"/>
<rect x="950" y="540" width="3" height="1" fill="#ff0000"/>
<rect x="954" y="528" width="1" height="35" fill="#ff0000"/>
<rect x="954" y="571" width="1" height="5" fill="#ff0000"/>
<rect x="953.5" y="563.5" width="2" height="7" fill="none" stroke="#ff0000" stroke-width="1"/>
<rect x="957" y="551" width="1" height="33" fill="#ff0000"/>
<rect x="956" y="556" width="4" height="15" fill="#ff0000"/>
<rect x="961" y="545" width="1" height="47" fill="#ff0000"/>
<rect x="960" y="552" width="3" height="18" fill="#ff0000"/>
<rect x="964" y="562" width="1" height="9" fill="#0000ff"/>
<rect x="964" y="574" width="1" height="18" fill="#0000ff"/>
<rect x="963.5" y="571.5" width="3" height="2" fill="none" stroke="#0000ff" stroke-width="1"/>
<rect x="968" y="560" width="1" height="21" fill="#0000ff"/>
<rect x="967" y="564" width="3" height="1" fill="#0000ff"/>
<rect x="971" y="560" width="1" height="20" fill="#ff0000"/>
<rect x="970" y="560" width="4" height="10" fill="#ff0000"/>
<rect x="975" y="558" width="1" height="23" fill="#ff0000"/>
<rect x="974" y="570" width="3" height="3" fill="#ff0000"/>
<rect x="978" y="560" width="1" height="21" fill="#0000ff"/>
<rect x="977" y="565" width="4" height="7" fill="#0000ff"/>
<rect x="982" y="572" width="1" height="18" fill="#ff0000"/>
<rect x="981" y="573" width="3" height="9" fill="#ff0000"/>
<rect x="985" y="574" width="1" height="45" fill="#0000ff"/>
<rect x="984" y="579" width="3" height="1" fill="#0000ff"/>
<rect x="988" y="578" width="1" height="57" fill="#ff0000"/>
<rect x="987" y="578" width="4" height="49" fill="#ff0000"/>
<rect x="992" y="607" width="1" height="7" fill="#0000ff"/>
<rect x="992" y="635" width="1" height="16" fill="#0000ff"/>
<rect x="991.5" y="614.5" width="2" height="20" fill="none" stroke="#0000ff" stroke-width="1"/>
<rect x="995" y="561" width="1" height="19" fill="#0000ff"/>
<rect x="995" y="606" width="1" height="13" fill="#0000ff"/>
<rect x="994.5" y="580.5" width="3" height="25" fill="none" stroke="#0000ff" stroke-width="1"/>
<rect x="999" y="572" width="1" height="31" fill="#ff0000"/>
<rect x="998" y="576" width="3" height="11" fill="#ff0000"/>
<rect x="1002" y="561" width="1" height="43" fill="#0000ff"/>
<rect x="1001" y="581" width="4" height="6" fill="#0000ff"/>
<rect x="1006" y="551" width="1" height="11" fill="#0000ff"/>
<rect x="1006" y="582" width="1" height="5" fill="#0000ff"/>
<rect x="1005.5" y="562.5" width="2" height="19" fill="none" stroke="#0000ff" stroke-width="1"/>
<rect x="1009" y="549" width="1" height="5" fill="#0000ff"/>
<rect x="1009" y="560" width="1" height="7" fill="#0000ff"/>
<rect x="1008.5" y="554.5" width="2" height="5" fill="none" stroke="#0000ff" stroke-width="1"/>
<rect x="1012" y="513" width="1" height="32" fill="#0000ff"/>
<rect x="1012" y="578" width="1" height="20" fill="#0000ff"/>
<rect x="1011.5" y="545.5" width="3" height="32" fill="none" stroke="#0000ff" stroke-width="1"/>
<rect x="1016" y="538" width="1" height="32" fill="#ff0000"/>
<rect x="1015" y="542" width="3" height="11" fill="#ff0000"/>
<rect x="1019" y="512" width="1" height="18" fill="#0000ff"/>
<rect x="1019" y="546" width="1" height="15" fill="#0000ff"/>
<rect x="1018.5" y="530.5" width="3" height="15" fill="none" stroke="#0000ff" stroke-width="1"/>
<rect x="1023" y="498" width="1" height="57" fill="#ff0000"/>
<rect x="1022" y="520" width="3" height="29" fill="#ff0000"/>
<rect x="1026" y="502" width="1" height="61" fill="#ff0000"/>
<rect x="1025" y="544" width="4" height="11" fill="#ff0000"/>
<rect x="1030" y="502" width="1" height="61" fill="#ff0000"/>
<rect x="1029" y="546" width="3" height="17" fill="#ff0000"/>
<rect x="1033" y="547" width="1" height="28" fill="#ff0000"/>
<rect x="1032" y="555" width="4" height="13" fill="#ff0000"/>
<rect x="1037" y="553" width="1" height="34" fill="#ff0000"/>
<rect x="1036" y="567" width="3" height="16" fill="#ff0000"/>
<rect x="1040" y="563" width="1" height="11" fill="#0000ff"/>
<rect x="1040" y="578" width="1" height="4" fill="#0000ff"/>
<rect x="1039.5" y="574.5" width="2" height="3" fill="none" stroke="#0000ff" stroke-width="1"/>
<rect x="1043" y="549" width="1" height="5" fill="#0000ff"/>
<rect x="1043" y="573" width="1" height="8" fill="#0000ff"/>
<rect x="1042.5" y="554.5" width="3" height="18" fill="none" stroke="#0000ff" stroke-width="1"/>
<rect x="1047" y="544" width="1" height="14" fill="#ff0000"/>
<rect x="1047" y="561" width="1" height="3" fill="#ff0000"/>
<rect x="1046.5" y="558.5" width="2" height="2" fill="none" stroke="#ff0000" stroke-width="1"/>
<rect x="1050" y="543" width="1" height="9" fill="#0000ff"/>
<rect x="1050" y="561" width="1" height="7" fill="#0000ff"/>
<rect x="1049.5" y="552.5" width="3" height="8" fill="none" stroke="#0000ff" stroke-width="1"/>
<rect x="1054" y="528" width="1" height="33" fill="#ff0000"/>
<rect x="1053" y="541" width="3" height="15" fill="#ff0000"/>
<rect x="1057" y="553" width="1" height="66" fill="#ff0000"/>
<rect x="1056" y="587" width="4" height="32" fill="#ff0000"/>
<rect x="1061" y="602" width="1" height="39" fill="#ff0000"/>
<rect x="1060" y="625" width="3" height="12" fill="#ff0000"/>
<rect x="1064" y="601" width="1" height="7" fill="#0000ff"/>
<rect x="1064" y="633" width="1" height="12" fill="#0000ff"/>
<rect x="1063.5" y="608.5" width="2" height="24" fill="none" stroke="#0000ff" stroke-width="1"/>
<rect x="1067" y="589" width="1" height="3" fill="#0000ff"/>
<rect x="1067" y="607" width="1" height="3" fill="#0000ff"/>
<rect x="1066.5" y="592.5" width="3" height="14" fill="none" stroke="#0000ff" stroke-width="1"/>
<rect x="1071" y="587" width="1" height="27" fill="#ff0000"/>
<rect x="1070" y="593" width="3" height="18" fill="#ff0000"/>
<rect x="1074" y="604" width="1" height="63" fill="#ff0000"/>
<rect x="1073" y="618" width="4" height="46" fill="#ff0000"/>
<rect x="1078" y="646" width="1" height="108" fill="#ff0000"/>
<rect x="1077" y="667" width="3" height="66" fill="#ff0000"/>
<rect x="1081" y="645" width="1" height="31" fill="#0000ff"/>
<rect x="1081" y="735" width="1" height="5" fill="#0000ff"/>
<rect x="1080.5" y="676.5" width="3" height="58" fill="none" stroke="#0000ff" stroke-width="1"/>
<rect x="1085" y="690" width="1" height="1" fill="#ff0000"/>
<rect x="1084.5" y="691.5" width="2" height="49" fill="none" stroke="#ff0000" stroke-width="1"/>
<rect x="1088" y="641" width="1" height="11" fill="#0000ff"/>
<rect x="1088" y="695" width="1" height="3" fill="#0000ff"/>
<rect x="1087.5" y="652.5" width="3" height="42" fill="none" stroke="#0000ff" stroke-width="1"/>
<rect x="1092" y="653" width="1" height="48" fill="#ff0000"/>
<rect x="1091" y="656" width="3" height="40" fill="#ff0000"/>
<rect x="1095" y="687" width="1" height="9" fill="#0000ff"/>
<rect x="1094.5" y="696.5" width="2" height="13" fill="none" stroke="#0000ff" stroke-width="1"/>
<rect x="1098" y="646" width="1" height="12" fill="#0000ff"/>
<rect x="1097.5" y="658.5" width="3" height="42" fill="none" stroke="#0000ff" stroke-width="1"/>
<rect x="1102" y="618" width="1" height="13" fill="#0000ff"/>
<rect x="1102" y="658" width="1" height="7" fill="#0000ff"/>
<rect x="1101.5" y="631.5" width="2" height="26" fill="none" stroke="#0000ff" stroke-width="1"/>
<rect x="1105" y="622" width="1" height="18" fill="#ff0000"/>
<rect x="1105" y="646" width="1" height="28" fill="#ff0000"/>
<rect x="1104.5" y="640.5" width="3" height="5" fill="none" stroke="#ff0000" stroke-width="1"/>
<rect x="1109" y="638" width="1" height="12" fill="#0000ff"/>
<rect x="1108.5" y="614.5" width="2" height="23" fill="none" stroke="#0000ff" stroke-width="1"/>
<rect x="1112" y="572" width="1" height="27" fill="#0000ff"/>
<rect x="1111.5" y="599.5" width="3" height="30" fill="none" stroke="#0000ff" stroke-width="1"/>
<rect x="1116" y="574" width="1" height="71" fill="#ff0000"/>
<rect x="1115" y="587" width="3" height="29" fill="#ff0000"/>
<rect x="1119" y="599" width="1" height="24" fill="#ff0000"/>
<rect x="1118" y="615" width="4" height="8" fill="#ff0000"/>
<rect x="1123" y="623" width="1" height="15" fill="#ff0000"/>
<rect x="1122" y="629" width="3" height="7" fill="#ff0000"/>
<rect x="1126" y="624" width="1" height="16" fill="#ff0000"/>
<rect x="1125" y="624" width="3" height="11" fill="#ff0000"/>
<rect x="1129" y="581" width="1" height="21" fill="#0000ff"/>
<rect x="1129" y="632" width="1" height="4" fill="#0000ff"/>
<rect x="1128.5" y="602.5" width="3" height="29" fill="none" stroke="#0000ff" stroke-width="1"/>
<rect x="1133" y="555" width="1" height="7" fill="#0000ff"/>
<rect x="1133" y="603" width="1" height="13" fill="#0000ff"/>
<rect x="1132.5" y="562.5" width="2" height="40" fill="none" stroke="#0000ff" stroke-width="1"/>
<rect x="1136" y="495" width="1" height="43" fill="#0000ff"/>
<rect x="1135" y="520" width="4" height="11" fill="#0000ff"/>
<rect x="1140" y="492" width="1" height="30" fill="#0000ff"/>
<rect x="1140" y="531" width="1" height="8" fill="#0000ff"/>
<rect x="1139.5" y="522.5" width="2" height="8" fill="none" stroke="#0000ff" stroke-width="1"/>
<rect x="1143" y="494" width="1" height="45" fill="#ff0000"/>
<rect x="1142" y="512" width="4" height="16" fill="#ff0000"/>
<rect x="1147" y="502" width="1" height="69" fill="#ff0000"/>
<rect x="1146" y="516" width="3" height="55" fill="#ff0000"/>
<rect x="1150" y="553" width="1" height="47" fill="#ff0000"/>
<rect x="1149" y="560" width="3" height="26" fill="#ff0000"/>
<rect x="1153" y="567" width="1" height="27" fill="#0000ff"/>
<rect x="1152.5" y="559.5" width="3" height="7" fill="none" stroke="#0000ff" stroke-width="1"/>
<rect x="1157" y="547" width="1" height="7" fill="#0000ff"/>
<rect x="1157" y="562" width="1" height="13" fill="#0000ff"/>
<rect x="1156.5" y="554.5" width="2" height="7" fill="none" stroke="#0000ff" stroke-width="1"/>
<rect x="1160" y="542" width="1" height="31" fill="#0000ff"/>
<rect x="1159" y="554" width="4" height="1" fill="#0000ff"/>
<rect x="1164" y="545" width="1" height="20" fill="#ff0000"/>
<rect x="1163" y="552" width="3" height="8" fill="#ff0000"/>
<rect x="1167" y="535" width="1" height="8" fill="#0000ff"/>
<rect x="1167" y="562" width="1" height="21" fill="#0000ff"/>
<rect x="1166.5" y="543.5" width="3" height="18" fill="none" stroke="#0000ff" stroke-width="1"/>
<rect x="1171" y="544" width="1" height="34" fill="#ff0000"/>
<rect x="1170" y="544" width="3" height="26" fill="#ff0000"/>
<rect x="1174" y="552" width="1" height="50" fill="#ff0000"/>
<rect x="1173" y="573" width="4" height="7" fill="#ff0000"/>
<rect x="1178" y="541" width="1" height="7" fill="#0000ff"/>
<rect x="1178" y="581" width="1" height="1" fill="#0000ff"/>
<rect x="1177.5" y="548.5" width="2" height="32" fill="none" stroke="#0000ff" stroke-width="1"/>
<rect x="1181" y="528" width="1" height="46" fill="#ff0000"/>
<rect x="1180" y="535" width="3" height="29" fill="#ff0000"/>
<rect x="1184" y="544" width="1" height="13" fill="#0000ff"/>
<rect x="1184" y="564" width="1" height="6" fill="#0000ff"/>
<rect x="1183.5" y="557.5" width="3" height="6" fill="none" stroke="#0000ff" stroke-width="1"/>
<rect x="1188" y="533" width="1" height="4" fill="#0000ff"/>
<rect x="1188" y="551" width="1" height="28" fill="#0000ff"/>
<rect x="1187.5" y="537.5" width="2" height="13" fill="none" stroke="#0000ff" stroke-width="1"/>
<rect x="1191" y="518" width="1" height="35" fill="#ff0000"/>
<rect x="1190" y="537" width="4" height="1" fill="#ff0000"/>
<rect x="1195" y="522" width="1" height="98" fill="#ff0000"/>
<rect x="1194" y="526" width="3" height="35" fill="#ff0000"/>
<rect x="1198" y="531" width="1" height="14" fill="#0000ff"/>
<rect x="1198" y="549" width="1" height="38" fill="#0000ff"/>
<rect x="1197.5" y="545.5" width="3" height="3" fill="none" stroke="#0000ff" stroke-width="1"/>
<rect x="1202" y="534" width="1" height="24" fill="#ff0000"/>
<rect x="1201" y="549" width="3" height="1" fill="#ff0000"/>
<rect x="1205" y="542" width="1" height="51" fill="#ff0000"/>
<rect x="1204" y="547" width="3" height="25" fill="#ff0000"/>
<rect x="1208" y="570" width="1" height="49" fill="#ff0000"/>
<rect x="1207" y="570" width="4" height="37" fill="#ff0000"/>
<rect x="1212" y="579" width="1" height="64" fill="#ff0000"/>
<rect x="1211" y="593" width="3" height="33" fill="#ff0000"/>
<rect x="1215" y="568" width="1" height="25" fill="#0000ff"/>
<rect x="1215" y="607" width="1" height="17" fill="#0000ff"/>
<rect x="1214.5" y="593.5" width="3" height="13" fill="none" stroke="#0000ff" stroke-width="1"/>
<rect x="1219" y="536" width="1" height="11" fill="#0000ff"/>
<rect x="1219" y="597" width="1" height="4" fill="#0000ff"/>
<rect x="1218.5" y="547.5" width="2" height="49" fill="none" stroke="#0000ff" stroke-width="1"/>
<rect x="1222" y="487" width="1" height="88" fill="#ff0000"/>
<rect x="1221" y="523" width="4" height="52" fill="#ff0000"/>
<rect x="1226" y="538" width="1" height="60" fill="#ff0000"/>
<rect x="1225" y="550" width="3" height="28" fill="#ff0000"/>
<rect x="1229" y="539" width="1" height="9" fill="#0000ff"/>
<rect x="1229" y="566" width="1" height="27" fill="#0000ff"/>
<rect x="1228.5" y="548.5" width="3" height="17" fill="none" stroke="#0000ff" stroke-width="1"/>
<rect x="1233" y="599" width="1" height="25" fill="#ff0000"/>
<rect x="1233" y="707" width="1" height="18" fill="#ff0000"/>
<rect x="1232.5" y="624.5" width="2" height="82" fill="none" stroke="#ff0000" stroke-width="1"/>
<rect x="1236" y="614" width="1" height="40" fill="#ff0000"/>
<rect x="1236" y="677" width="1" height="17" fill="#ff0000"/>
<rect x="1235.5" y="654.5" width="2" height="22" fill="none" stroke="#ff0000" stroke-width="1"/>
<rect x="1239" y="619" width="1" height="31" fill="#0000ff"/>
<rect x="1238" y="629" width="4" height="1" fill="#0000ff"/>
<rect x="1243" y="584" width="1" height="22" fill="#0000ff"/>
<rect x="1243" y="617" width="1" height="10" fill="#0000ff"/>
<rect x="1242.5" y="606.5" width="2" height="10" fill="none" stroke="#0000ff" stroke-width="1"/>
<rect x="1246" y="586" width="1" height="5" fill="#0000ff"/>
<rect x="1246" y="606" width="1" height="9" fill="#0000ff"/>
<rect x="1245.5" y="591.5" width="3" height="14" fill="none" stroke="#0000ff" stroke-width="1"/>
<rect x="1250" y="583" width="1" height="18" fill="#ff0000"/>
<rect x="1249" y="597" width="3" height="3" fill="#ff0000"/>
<rect x="1253" y="599" width="1" height="62" fill="#ff0000"/>
<rect x="1252" y="599" width="4" height="42" fill="#ff0000"/>
<rect x="1257" y="627" width="1" height="46" fill="#ff0000"/>
<rect x="1256" y="635" width="3" height="35" fill="#ff0000"/>
<rect x="1260" y="606" width="1" height="62" fill="#0000ff"/>
<rect x="1259" y="607" width="4" height="8" fill="#0000ff"/>
<rect x="1264" y="576" width="1" height="15" fill="#0000ff"/>
<rect x="1263.5" y="591.5" width="2" height="14" fill="none" stroke="#0000ff" stroke-width="1"/>
<rect x="1267" y="564" width="1" height="32" fill="#ff0000"/>
<rect x="1267" y="600" width="1" height="10" fill="#ff0000"/>
<rect x="1266.5" y="596.5" width="2" height="3" fill="none" stroke="#ff0000" stroke-width="1"/>
<rect x="1270" y="527" width="1" height="18" fill="#0000ff"/>
<rect x="1270" y="566" width="1" height="15" fill="#0000ff"/>
<rect x="1269.5" y="545.5" width="3" height="20" fill="none" stroke="#0000ff" stroke-width="1"/>
<rect x="1274" y="540" width="1" height="44" fill="#ff0000"/>
<rect x="1273" y="546" width="3" height="28" fill="#ff0000"/>
<rect x="1277" y="563" width="1" height="17" fill="#0000ff"/>
<rect x="1276" y="564" width="4" height="5" fill="#0000ff"/>
<rect x="1281" y="561" width="1" height="11" fill="#ff0000"/>
<rect x="1280.5" y="572.5" width="2" height="7" fill="none" stroke="#ff0000" stroke-width="1"/>
<rect x="1284" y="566" width="1" height="7" fill="#ff0000"/>
<rect x="1284" y="580" width="1" height="2" fill="#ff0000"/>
<rect x="1283.5" y="573.5" width="3" height="6" fill="none" stroke="#ff0000" stroke-width="1"/>
<rect x="1288" y="558" width="1" height="3" fill="#0000ff"/>
<rect x="1288" y="587" width="1" height="6" fill="#0000ff"/>
<rect x="1287.5" y="561.5" width="2" height="25" fill="none" stroke="#0000ff" stroke-width="1"/>
<rect x="1291" y="554" width="1" height="27" fill="#ff0000"/>
<rect x="1290" y="560" width="3" height="21" fill="#ff0000"/>
<rect x="1294" y="563" width="1" height="10" fill="#0000ff"/>
<rect x="1294" y="578" width="1" height="18" fill="#0000ff"/>
<rect x="1293.5" y="573.5" width="3" height="4" fill="none" stroke="#0000ff" stroke-width="1"/>
<rect x="1298" y="569" width="1" height="22" fill="#ff0000"/>
<rect x="1297" y="576" width="3" height="8" fill="#ff0000"/>
<rect x="1301" y="561" width="1" height="11" fill="#0000ff"/>
<rect x="1301" y="575" width="1" height="16" fill="#0000ff"/>
<rect x="1300.5" y="572.5" width="3" height="2" fill="none" stroke="#0000ff" stroke-width="1"/>
<rect x="1305" y="535" width="1" height="18" fill="#0000ff"/>
<rect x="1305" y="562" width="1" height="8" fill="#0000ff"/>
<rect x="1304.5" y="553.5" width="2" height="8" fill="none" stroke="#0000ff" stroke-width="1"/>
<rect x="1308" y="553" width="1" height="49" fill="#ff0000"/>
<rect x="1307" y="553" width="4" height="18" fill="#ff0000"/>
<rect x="1312" y="539" width="1" height="11" fill="#0000ff"/>
<rect x="1312" y="566" width="1" height="4" fill="#0000ff"/>
<rect x="1311.5" y="550.5" width="2" height="15" fill="none" stroke="#0000ff" stroke-width="1"/>
<rect x="1315" y="535" width="1" height="12" fill="#0000ff"/>
<rect x="1315" y="559" width="1" height="4" fill="#0000ff"/>
<rect x="1314.5" y="547.5" width="3" height="11" fill="none" stroke="#0000ff" stroke-width="1"/>
<rect x="1319" y="535" width="1" height="24" fill="#ff0000"/>
<rect x="1318" y="545" width="3" height="10" fill="#ff0000"/>
<rect x="1322" y="535" width="1" height="7" fill="#0000ff"/>
<rect x="1322" y="554" width="1" height="7" fill="#0000ff"/>
<rect x="1321.5" y="542.5" width="2" height="11" fill="none" stroke="#0000ff" stroke-width="1"/>
<rect x="1325" y="550" width="1" height="49" fill="#ff0000"/>
<rect x="1324" y="552" width="4" height="37" fill="#ff0000"/>
<rect x="1329" y="576" width="1" height="34" fill="#ff0000"/>
<rect x="1328" y="584" width="3" height="20" fill="#ff0000"/>
<rect x="1332" y="557" width="1" height="23" fill="#0000ff"/>
<rect x="1332" y="612" width="1" height="10" fill="#0000ff"/>
<rect x="1331.5" y="580.5" width="3" height="31" fill="none" stroke="#0000ff" stroke-width="1"/>
<rect x="1336" y="502" width="1" height="12" fill="#0000ff"/>
<rect x="1336" y="535" width="1" height="32" fill="#0000ff"/>
<rect x="1335.5" y="514.5" width="2" height="20" fill="none" stroke="#0000ff" stroke-width="1"/>
<rect x="1339" y="470" width="1" height="18" fill="#0000ff"/>
<rect x="1339" y="509" width="1" height="29" fill="#0000ff"/>
<rect x="1338.5" y="488.5" width="3" height="20" fill="none" stroke="#0000ff" stroke-width="1"/>
<rect x="1343" y="460" width="1" height="39" fill="#0000ff"/>
<rect x="1342" y="478" width="3" height="11" fill="#0000ff"/>
<rect x="1346" y="462" width="1" height="35" fill="#ff0000"/>
<rect x="1345" y="486" width="4" height="11" fill="#ff0000"/>
<rect x="1350" y="494" width="1" height="3" fill="#0000ff"/>
<rect x="1349.5" y="460.5" width="2" height="33" fill="none" stroke="#0000ff" stroke-width="1"/>
<rect x="1353" y="436" width="1" height="30" fill="#ff0000"/>
<rect x="1352" y="457" width="3" height="7" fill="#ff0000"/>
<rect x="1356" y="386" width="1" height="18" fill="#0000ff"/>
<rect x="1356" y="463" width="1" height="17" fill="#0000ff"/>
<rect x="1355.5" y="404.5" width="3" height="58" fill="none" stroke="#0000ff" stroke-width="1"/>
<rect x="1360" y="389" width="1" height="34" fill="#ff0000"/>
<rect x="1359" y="410" width="3" height="4" fill="#ff0000"/>
<rect x="1363" y="404" width="1" height="3" fill="#0000ff"/>
<rect x="1363" y="425" width="1" height="15" fill="#0000ff"/>
<rect x="1362.5" y="407.5" width="3" height="17" fill="none" stroke="#0000ff" stroke-width="1"/>
<rect x="1367" y="398" width="1" height="6" fill="#0000ff"/>
<rect x="1366.5" y="404.5" width="2" height="15" fill="none" stroke="#0000ff" stroke-width="1"/>
<rect x="1370" y="344" width="1" height="32" fill="#0000ff"/>
<rect x="1370" y="385" width="1" height="10" fill="#0000ff"/>
<rect x="1369.5" y="376.5" width="3" height="8" fill="none" stroke="#0000ff" stroke-width="1"/>
<rect x="1374" y="373" width="1" height="24" fill="#ff0000"/>
<rect x="1373" y="377" width="3" height="13" fill="#ff0000"/>
<rect x="1377" y="354" width="1" height="28" fill="#0000ff"/>
<rect x="1377" y="386" width="1" height="2" fill="#0000ff"/>
<rect x="1376.5" y="382.5" width="2" height="3" fill="none" stroke="#0000ff" stroke-width="1"/>
<rect x="1380" y="354" width="1" height="13" fill="#0000ff"/>
<rect x="1380" y="374" width="1" height="7" fill="#0000ff"/>
<rect x="1379.5" y="367.5" width="3" height="6" fill="none" stroke="#0000ff" stroke-width="1"/>
<rect x="1384" y="354" width="1" height="8" fill="#0000ff"/>
<rect x="1384" y="367" width="1" height="11" fill="#0000ff"/>
<rect x="1383.5" y="362.5" width="2" height="4" fill="none" stroke="#0000ff" stroke-width="1"/>
<rect x="1387" y="328" width="1" height="4" fill="#0000ff"/>
<rect x="1387" y="354" width="1" height="9" fill="#0000ff"/>
<rect x="1386.5" y="332.5" width="3" height="21" fill="none" stroke="#0000ff" stroke-width="1"/>
<rect x="1391" y="306" width="1" height="5" fill="#0000ff"/>
<rect x="1391" y="322" width="1" height="17" fill="#0000ff"/>
<rect x="1390.5" y="311.5" width="2" height="10" fill="none" stroke="#0000ff" stroke-width="1"/>
<rect x="1394" y="316" width="1" height="16" fill="#ff0000"/>
<rect x="1393" y="319" width="4" height="1" fill="#ff0000"/>
<rect x="1398" y="309" width="1" height="30" fill="#0000ff"/>
<rect x="1397" y="311" width="3" height="2" fill="#0000ff"/>
<rect x="1401" y="330" width="1" height="41" fill="#ff0000"/>
<rect x="1400" y="335" width="4" height="29" fill="#ff0000"/>
<rect x="1405" y="342" width="1" height="19" fill="#0000ff"/>
<rect x="1404" y="342" width="3" height="8" fill="#0000ff"/>
<rect x="1408" y="327" width="1" height="3" fill="#0000ff"/>
<rect x="1408" y="345" width="1" height="16" fill="#0000ff"/>
<rect x="1407.5" y="330.5" width="2" height="14" fill="none" stroke="#0000ff" stroke-width="1"/>
<rect x="1411" y="320" width="1" height="35" fill="#ff0000"/>
<rect x="1410" y="327" width="4" height="11" fill="#ff0000"/>
<rect x="1415" y="332" width="1" height="23" fill="#ff0000"/>
<rect x="1414" y="335" width="3" height="7" fill="#ff0000"/>
<rect x="1418" y="332" width="1" height="18" fill="#ff0000"/>
<rect x="1418" y="353" width="1" height="8" fill="#ff0000"/>
<rect x="1417.5" y="350.5" width="3" height="2" fill="none" stroke="#ff0000" stroke-width="1"/>
<rect x="1422" y="332" width="1" height="24" fill="#0000ff"/>
<rect x="1421" y="347" width="3" height="1" fill="#0000ff"/>
<rect x="1425" y="323" width="1" height="5" fill="#0000ff"/>
<rect x="1425" y="356" width="1" height="7" fill="#0000ff"/>
<rect x="1424.5" y="328.5" width="3" height="27" fill="none" stroke="#0000ff" stroke-width="1"/>
<rect x="1429" y="321" width="1" height="71" fill="#ff0000"/>
<rect x="1428" y="325" width="3" height="58" fill="#ff0000"/>
<rect x="1432" y="337" width="1" height="13" fill="#0000ff"/>
<rect x="1432" y="379" width="1" height="8" fill="#0000ff"/>
<rect x="1431.5" y="350.5" width="2" height="28" fill="none" stroke="#0000ff" stroke-width="1"/>
<rect x="1435" y="351" width="1" height="12" fill="#0000ff"/>
<rect x="1434.5" y="321.5" width="3" height="29" fill="none" stroke="#0000ff" stroke-width="1"/>
<rect x="1439" y="322" width="1" height="27" fill="#ff0000"/>
<rect x="1438" y="324" width="3" height="1" fill="#ff0000"/>
<rect x="1442" y="302" width="1" height="12" fill="#0000ff"/>
<rect x="1442" y="328" width="1" height="7" fill="#0000ff"/>
<rect x="1441.5" y="314.5" width="3" height="13" fill="none" stroke="#0000ff" stroke-width="1"/>
<rect x="1446" y="320" width="1" height="44" fill="#ff0000"/>
<rect x="1445" y="323" width="3" height="34" fill="#ff0000"/>
<rect x="1449" y="331" width="1" height="73" fill="#ff0000"/>
<rect x="1448" y="331" width="4" height="53" fill="#ff0000"/>
<rect x="1453" y="370" width="1" height="47" fill="#ff0000"/>
<rect x="1452" y="380" width="3" height="20" fill="#ff0000"/>
<rect x="1456" y="366" width="1" height="108" fill="#ff0000"/>
<rect x="1455" y="379" width="4" height="95" fill="#ff0000"/>
<rect x="1460" y="447" width="1" height="11" fill="#0000ff"/>
<rect x="1459.5" y="458.5" width="2" height="15" fill="none" stroke="#0000ff" stroke-width="1"/>
<rect x="1463" y="450" width="1" height="7" fill="#0000ff"/>
<rect x="1463" y="463" width="1" height="10" fill="#0000ff"/>
<rect x="1462.5" y="457.5" width="2" height="5" fill="none" stroke="#0000ff" stroke-width="1"/>
<rect x="1466" y="436" width="1" height="43" fill="#0000ff"/>
<rect x="1465" y="450" width="4" height="1" fill="#0000ff"/>
<rect x="1470" y="424" width="1" height="6" fill="#0000ff"/>
<rect x="1470" y="434" width="1" height="13" fill="#0000ff"/>
<rect x="1469.5" y="430.5" width="2" height="3" fill="none" stroke="#0000ff" stroke-width="1"/>
<rect x="1473" y="423" width="1" height="17" fill="#ff0000"/>
<rect x="1472" y="428" width="4" height="6" fill="#ff0000"/>
<rect x="1477" y="414" width="1" height="3" fill="#0000ff"/>
<rect x="1477" y="434" width="1" height="13" fill="#0000ff"/>
<rect x="1476.5" y="417.5" width="2" height="16" fill="none" stroke="#0000ff" stroke-width="1"/>
<rect x="1480" y="372" width="1" height="5" fill="#0000ff"/>
<rect x="1479.5" y="377.5" width="3" height="42" fill="none" stroke="#0000ff" stroke-width="1"/>
<rect x="1484" y="376" width="1" height="20" fill="#ff0000"/>
<rect x="1483" y="383" width="3" height="7" fill="#ff0000"/>
<rect x="1487" y="370" width="1" height="20" fill="#0000ff"/>
<rect x="1486" y="377" width="4" height="1" fill="#0000ff"/>
<rect x="1491" y="366" width="1" height="40" fill="#ff0000"/>
<rect x="1490" y="368" width="3" height="34" fill="#ff0000"/>
<rect x="1494" y="358" width="1" height="19" fill="#0000ff"/>
<rect x="1493.5" y="377.5" width="2" height="21" fill="none" stroke="#0000ff" stroke-width="1"/>
<rect x="1497" y="357" width="1" height="14" fill="#0000ff"/>
<rect x="1497" y="383" width="1" height="5" fill="#0000ff"/>
<rect x="1496.5" y="371.5" width="3" height="11" fill="none" stroke="#0000ff" stroke-width="1"/>
<rect x="1501" y="342" width="1" height="8" fill="#0000ff"/>
<rect x="1501" y="379" width="1" height="8" fill="#0000ff"/>
<rect x="1500.5" y="350.5" width="2" height="28" fill="none" stroke="#0000ff" stroke-width="1"/>
<rect x="1504" y="334" width="1" height="16" fill="#0000ff"/>
<rect x="1503" y="342" width="4" height="6" fill="#0000ff"/>
<rect x="1508" y="318" width="1" height="12" fill="#0000ff"/>
<rect x="1508" y="333" width="1" height="17" fill="#0000ff"/>
<rect x="1507.5" y="330.5" width="2" height="2" fill="none" stroke="#0000ff" stroke-width="1"/>
<rect x="1511" y="328" width="1" height="23" fill="#ff0000"/>
<rect x="1510" y="331" width="4" height="8" fill="#ff0000"/>
<rect x="1515" y="334" width="1" height="42" fill="#ff0000"/>
<rect x="1514" y="335" width="3" height="30" fill="#ff0000"/>
<rect x="1518" y="362" width="1" height="24" fill="#ff0000"/>
<rect x="1517" y="362" width="3" height="22" fill="#ff0000"/>
<rect x="1521" y="366" width="1" height="12" fill="#0000ff"/>
<rect x="1521" y="381" width="1" height="5" fill="#0000ff"/>
<rect x="1520.5" y="378.5" width="3" height="2" fill="none" stroke="#0000ff" stroke-width="1"/>
<rect x="1525" y="380" width="1" height="12" fill="#ff0000"/>
<rect x="1524" y="380" width="3" height="10" fill="#ff0000"/>
<rect x="1528" y="372" width="1" height="10" fill="#0000ff"/>
<rect x="1527.5" y="382.5" width="3" height="8" fill="none" stroke="#0000ff" stroke-width="1"/>
<rect x="1532" y="359" width="1" height="9" fill="#0000ff"/>
<rect x="1532" y="376" width="1" height="9" fill="#0000ff"/>
<rect x="1531.5" y="368.5" width="2" height="7" fill="none" stroke="#0000ff" stroke-width="1"/>
<rect x="1535" y="357" width="1" height="27" fill="#ff0000"/>
<rect x="1534" y="365" width="4" height="18" fill="#ff0000"/>
<rect x="1539" y="381" width="1" height="65" fill="#ff0000"/>
<rect x="1538" y="381" width="3" height="51" fill="#ff0000"/>
<rect x="1542" y="424" width="1" height="26" fill="#ff0000"/>
<rect x="1541" y="434" width="4" height="11" fill="#ff0000"/>
<rect x="1546" y="443" width="1" height="24" fill="#ff0000"/>
<rect x="1545" y="443" width="3" height="19" fill="#ff0000"/>
<rect x="1549" y="449" width="1" height="24" fill="#ff0000"/>
<rect x="1548" y="456" width="3" height="16" fill="#ff0000"/>
<rect x="1552" y="469" width="1" height="7" fill="#ff0000"/>
<rect x="1552" y="513" width="1" height="10" fill="#ff0000"/>
<rect x="1551.5" y="476.5" width="3" height="36" fill="none" stroke="#ff0000" stroke-width="1"/>
<rect x="1556" y="467" width="1" height="6" fill="#0000ff"/>
<rect x="1556" y="476" width="1" height="21" fill="#0000ff"/>
<rect x="1555.5" y="473.5" width="2" height="2" fill="none" stroke="#0000ff" stroke-width="1"/>
<rect x="1559" y="463" width="1" height="33" fill="#ff0000"/>
<rect x="1558" y="479" width="4" height="1" fill="#ff0000"/>
<rect x="1563" y="482" width="1" height="29" fill="#ff0000"/>
<rect x="1562" y="484" width="3" height="1" fill="#ff0000"/>
<rect x="1566" y="475" width="1" height="25" fill="#ff0000"/>
<rect x="1565" y="475" width="4" height="25" fill="#ff0000"/>
<rect x="1570" y="477" width="1" height="36" fill="#ff0000"/>
<rect x="1569" y="500" width="3" height="8" fill="#ff0000"/>
<rect x="1573" y="343" width="1" height="10" fill="#0000ff"/>
<rect x="1573" y="431" width="1" height="18" fill="#0000ff"/>
<rect x="1572.5" y="353.5" width="2" height="77" fill="none" stroke="#0000ff" stroke-width="1"/>
<rect x="1576" y="322" width="1" height="64" fill="#ff0000"/>
<rect x="1575" y="326" width="4" height="32" fill="#ff0000"/>
<rect x="1580" y="339" width="1" height="39" fill="#ff0000"/>
<rect x="1579" y="344" width="3" height="34" fill="#ff0000"/>
<rect x="1583" y="350" width="1" height="35" fill="#ff0000"/>
<rect x="1582" y="366" width="4" height="16" fill="#ff0000"/>
<rect x="1587" y="350" width="1" height="46" fill="#ff0000"/>
<rect x="1586" y="377" width="3" height="13" fill="#ff0000"/>
<rect x="1590" y="363" width="1" height="28" fill="#0000ff"/>
<rect x="1589" y="368" width="4" height="15" fill="#0000ff"/>
<rect x="1594" y="378" width="1" height="6" fill="#0000ff"/>
<rect x="1593.5" y="372.5" width="2" height="5" fill="none" stroke="#0000ff" stroke-width="1"/>
<rect x="1597" y="362" width="1" height="18" fill="#0000ff"/>
<rect x="1596" y="365" width="4" height="7" fill="#0000ff"/>
<rect x="1601" y="338" width="1" height="4" fill="#0000ff"/>
<rect x="1601" y="374" width="1" height="7" fill="#0000ff"/>
<rect x="1600.5" y="342.5" width="2" height="31" fill="none" stroke="#0000ff" stroke-width="1"/>
<rect x="1604" y="340" width="1" height="43" fill="#ff0000"/>
<rect x="1603" y="346" width="3" height="26" fill="#ff0000"/>
<rect x="1607" y="367" width="1" height="27" fill="#ff0000"/>
<rect x="1606" y="380" width="4" height="14" fill="#ff0000"/>
<rect x="1611" y="368" width="1" height="35" fill="#ff0000"/>
<rect x="1610" y="384" width="3" height="12" fill="#ff0000"/>
<rect x="1614" y="360" width="1" height="10" fill="#0000ff"/>
<rect x="1614" y="388" width="1" height="17" fill="#0000ff"/>
<rect x="1613.5" y="370.5" width="3" height="17" fill="none" stroke="#0000ff" stroke-width="1"/>
<rect x="1618" y="374" width="1" height="27" fill="#ff0000"/>
<rect x="1617" y="381" width="3" height="1" fill="#ff0000"/>
<rect x="1621" y="383" width="1" height="10" fill="#0000ff"/>
<rect x="1620.5" y="367.5" width="3" height="15" fill="none" stroke="#0000ff" stroke-width="1"/>
<rect x="1625" y="360" width="1" height="5" fill="#0000ff"/>
<rect x="1624.5" y="332.5" width="2" height="27" fill="none" stroke="#0000ff" stroke-width="1"/>
<rect x="1628" y="295" width="1" height="2" fill="#0000ff"/>
<rect x="1628" y="330" width="1" height="20" fill="#0000ff"/>
<rect x="1627.5" y="297.5" width="3" height="32" fill="none" stroke="#0000ff" stroke-width="1"/>
<rect x="1632" y="275" width="1" height="30" fill="#ff0000"/>
<rect x="1631" y="298" width="3" height="7" fill="#ff0000"/>
<rect x="1635" y="268" width="1" height="40" fill="#ff0000"/>
<rect x="1634" y="289" width="3" height="19" fill="#ff0000"/>
<rect x="1638" y="289" width="1" height="3" fill="#0000ff"/>
<rect x="1638" y="308" width="1" height="10" fill="#0000ff"/>
<rect x="1637.5" y="292.5" width="3" height="15" fill="none" stroke="#0000ff" stroke-width="1"/>
<rect x="1642" y="292" width="1" height="23" fill="#ff0000"/>
<rect x="1642" y="320" width="1" height="6" fill="#ff0000"/>
<rect x="1641.5" y="315.5" width="2" height="4" fill="none" stroke="#ff0000" stroke-width="1"/>
<rect x="1645" y="317" width="1" height="41" fill="#ff0000"/>
<rect x="1644" y="317" width="3" height="37" fill="#ff0000"/>
<rect x="1648" y="311" width="1" height="3" fill="#0000ff"/>
<rect x="1647.5" y="314.5" width="3" height="31" fill="none" stroke="#0000ff" stroke-width="1"/>
<rect x="1652" y="301" width="1" height="20" fill="#ff0000"/>
<rect x="1651" y="314" width="4" height="6" fill="#ff0000"/>
<rect x="1656" y="299" width="1" height="5" fill="#0000ff"/>
<rect x="1656" y="307" width="1" height="11" fill="#0000ff"/>
<rect x="1655.5" y="304.5" width="2" height="2" fill="none" stroke="#0000ff" stroke-width="1"/>
<rect x="1659" y="280" width="1" height="55" fill="#ff0000"/>
<rect x="1658" y="295" width="3" height="36" fill="#ff0000"/>
<rect x="1662" y="327" width="1" height="31" fill="#ff0000"/>
<rect x="1661" y="337" width="4" height="9" fill="#ff0000"/>
<rect x="1666" y="332" width="1" height="8" fill="#0000ff"/>
<rect x="1666" y="348" width="1" height="12" fill="#0000ff"/>
<rect x="1665.5" y="340.5" width="2" height="7" fill="none" stroke="#0000ff" stroke-width="1"/>
<rect x="1669" y="311" width="1" height="26" fill="#0000ff"/>
<rect x="1669" y="342" width="1" height="1" fill="#0000ff"/>
<rect x="1668.5" y="337.5" width="3" height="4" fill="none" stroke="#0000ff" stroke-width="1"/>
<rect x="1673" y="313" width="1" height="7" fill="#0000ff"/>
<rect x="1673" y="340" width="1" height="2" fill="#0000ff"/>
<rect x="1672.5" y="320.5" width="2" height="19" fill="none" stroke="#0000ff" stroke-width="1"/>
<rect x="1676" y="306" width="1" height="52" fill="#ff0000"/>
<rect x="1675" y="317" width="4" height="31" fill="#ff0000"/>
<rect x="1680" y="320" width="1" height="18" fill="#0000ff"/>
<rect x="1680" y="341" width="1" height="6" fill="#0000ff"/>
<rect x="1679.5" y="338.5" width="2" height="2" fill="none" stroke="#0000ff" stroke-width="1"/>
<rect x="1683" y="322" width="1" height="30" fill="#0000ff"/>
<rect x="1682" y="332" width="4" height="1" fill="#0000ff"/>
<rect x="1687" y="318" width="1" height="27" fill="#ff0000"/>
<rect x="1686" y="321" width="3" height="24" fill="#ff0000"/>
<rect x="1690" y="344" width="1" height="8" fill="#0000ff"/>
<rect x="1689.5" y="314.5" width="2" height="29" fill="none" stroke="#0000ff" stroke-width="1"/>
<rect x="1693" y="287" width="1" height="2" fill="#0000ff"/>
<rect x="1693" y="313" width="1" height="10" fill="#0000ff"/>
<rect x="1692.5" y="289.5" width="3" height="23" fill="none" stroke="#0000ff" stroke-width="1"/>
<rect x="1697" y="292" width="1" height="33" fill="#ff0000"/>
<rect x="1696" y="292" width="3" height="14" fill="#ff0000"/>
<rect x="1700" y="289" width="1" height="38" fill="#0000ff"/>
<rect x="1699" y="293" width="4" height="11" fill="#0000ff"/>
<rect x="1704" y="271" width="1" height="16" fill="#0000ff"/>
<rect x="1703.5" y="287.5" width="2" height="6" fill="none" stroke="#0000ff" stroke-width="1"/>
<rect x="1707" y="283" width="1" height="54" fill="#ff0000"/>
<rect x="1706" y="287" width="4" height="37" fill="#ff0000"/>
<rect x="1711" y="321" width="1" height="22" fill="#ff0000"/>
<rect x="1710" y="329" width="3" height="1" fill="#ff0000"/>
<rect x="1714" y="276" width="1" height="23" fill="#0000ff"/>
<rect x="1714" y="317" width="1" height="2" fill="#0000ff"/>
<rect x="1713.5" y="299.5" width="3" height="17" fill="none" stroke="#0000ff" stroke-width="1"/>
<rect x="1718" y="281" width="1" height="6" fill="#0000ff"/>
<rect x="1718" y="299" width="1" height="7" fill="#0000ff"/>
<rect x="1717.5" y="287.5" width="2" height="11" fill="none" stroke="#0000ff" stroke-width="1"/>
<rect x="1721" y="288" width="1" height="19" fill="#0000ff"/>
<rect x="1720.5" y="266.5" width="2" height="21" fill="none" stroke="#0000ff" stroke-width="1"/>
<rect x="1724" y="268" width="1" height="16" fill="#ff0000"/>
<rect x="1723" y="274" width="4" height="1" fill="#ff0000"/>
<rect x="1728" y="236" width="1" height="15" fill="#0000ff"/>
<rect x="1728" y="271" width="1" height="6" fill="#0000ff"/>
<rect x="1727.5" y="251.5" width="2" height="19" fill="none" stroke="#0000ff" stroke-width="1"/>
<rect x="1731" y="263" width="1" height="36" fill="#ff0000"/>
<rect x="1730" y="265" width="4" height="31" fill="#ff0000"/>
<rect x="1735" y="281" width="1" height="28" fill="#ff0000"/>
<rect x="1734" y="295" width="3" height="14" fill="#ff0000"/>
<rect x="1738" y="296" width="1" height="13" fill="#0000ff"/>
<rect x="1737.5" y="287.5" width="3" height="8" fill="none" stroke="#0000ff" stroke-width="1"/>
<rect x="1742" y="281" width="1" height="28" fill="#ff0000"/>
<rect x="1741" y="288" width="3" height="17" fill="#ff0000"/>
<rect x="1745" y="299" width="1" height="8" fill="#0000ff"/>
<rect x="1744.5" y="270.5" width="2" height="28" fill="none" stroke="#0000ff" stroke-width="1"/>
<rect x="1748" y="252" width="1" height="1" fill="#0000ff"/>
<rect x="1748" y="270" width="1" height="4" fill="#0000ff"/>
<rect x="1747.5" y="253.5" width="3" height="16" fill="none" stroke="#0000ff" stroke-width="1"/>
<rect x="1752" y="241" width="1" height="29" fill="#ff0000"/>
<rect x="1751" y="248" width="3" height="10" fill="#ff0000"/>
<rect x="1755" y="221" width="1" height="13" fill="#0000ff"/>
<rect x="1755" y="258" width="1" height="2" fill="#0000ff"/>
<rect x="1754.5" y="234.5" width="3" height="23" fill="none" stroke="#0000ff" stroke-width="1"/>
<rect x="1759" y="216" width="1" height="50" fill="#ff0000"/>
<rect x="1758" y="228" width="3" height="25" fill="#ff0000"/>
<rect x="1762" y="257" width="1" height="6" fill="#0000ff"/>
<rect x="1761.5" y="234.5" width="3" height="22" fill="none" stroke="#0000ff" stroke-width="1"/>
<rect x="1766" y="227" width="1" height="24" fill="#0000ff"/>
<rect x="1765" y="227" width="3" height="1" fill="#0000ff"/>
<rect x="1769" y="229" width="1" height="39" fill="#ff0000"/>
<rect x="1768" y="230" width="4" height="17" fill="#ff0000"/>
<rect x="1773" y="216" width="1" height="6" fill="#0000ff"/>
<rect x="1773" y="249" width="1" height="16" fill="#0000ff"/>
<rect x="1772.5" y="222.5" width="2" height="26" fill="none" stroke="#0000ff" stroke-width="1"/>
<rect x="1776" y="204" width="1" height="10" fill="#0000ff"/>
<rect x="1775.5" y="214.5" width="2" height="20" fill="none" stroke="#0000ff" stroke-width="1"/>
<rect x="1779" y="228" width="1" height="9" fill="#ff0000"/>
<rect x="1778.5" y="219.5" width="3" height="8" fill="none" stroke="#ff0000" stroke-width="1"/>
<rect x="1783" y="190" width="1" height="7" fill="#0000ff"/>
<rect x="1783" y="216" width="1" height="14" fill="#0000ff"/>
<rect x="1782.5" y="197.5" width="2" height="18" fill="none" stroke="#0000ff" stroke-width="1"/>
<rect x="1786" y="130" width="1" height="65" fill="#0000ff"/>
<rect x="1785" y="151" width="4" height="24" fill="#0000ff"/>
<rect x="1790" y="138" width="1" height="12" fill="#0000ff"/>
<rect x="1790" y="161" width="1" height="9" fill="#0000ff"/>
<rect x="1789.5" y="150.5" width="2" height="10" fill="none" stroke="#0000ff" stroke-width="1"/>
<rect x="1793" y="140" width="1" height="48" fill="#ff0000"/>
<rect x="1792" y="144" width="4" height="35" fill="#ff0000"/>
<rect x="1797" y="166" width="1" height="59" fill="#ff0000"/>
<rect x="1796" y="188" width="3" height="13" fill="#ff0000"/>
<rect x="1800" y="170" width="1" height="9" fill="#0000ff"/>
<rect x="1800" y="185" width="1" height="18" fill="#0000ff"/>
<rect x="1799.5" y="179.5" width="2" height="5" fill="none" stroke="#0000ff" stroke-width="1"/>
<rect x="1803" y="145" width="1" height="28" fill="#0000ff"/>
<rect x="1803" y="184" width="1" height="3" fill="#0000ff"/>
<rect x="1802.5" y="173.5" width="3" height="10" fill="none" stroke="#0000ff" stroke-width="1"/>
<rect x="1806.5" y="126.5" width="2" height="39" fill="none" stroke="#0000ff" stroke-width="1"/>
<rect x="0" y="72" width="1847" height="1" fill="#0000ff"/>
<rect x="0" y="303" width="1847" height="1" fill="#0000ff"/>
<rect x="1566" y="498" width="49" height="1" fill="#0000ff"/>
<rect x="528" y="798" width="8" height="1" fill="#0000ff"/>
<rect x="536" y="797" width="13" height="1" fill="#0000ff"/>
<rect x="549" y="796" width="12" height="1" fill="#0000ff"/>
<rect x="561" y="795" width="12" height="1" fill="#0000ff"/>
<rect x="573" y="794" width="12" height="1" fill="#0000ff"/>
<rect x="585" y="793" width="12" height="1" fill="#0000ff"/>
<rect x="597" y="792" width="12" height="1" fill="#0000ff"/>
<rect x="609" y="791" width="12" height="1" fill="#0000ff"/>
<rect x="621" y="790" width="12" height="1" fill="#0000ff"/>
<rect x="633" y="789" width="12" height="1" fill="#0000ff"/>
<rect x="645" y="788" width="12" height="1" fill="#0000ff"/>
<rect x="657" y="787" width="13" height="1" fill="#0000ff"/>
<rect x="670" y="786" width="12" height="1" fill="#0000ff"/>
<rect x="682" y="785" width="12" height="1" fill="#0000ff"/>
<rect x="694" y="784" width="12" height="1" fill="#0000ff"/>
<rect x="706" y="783" width="12" height="1" fill="#0000ff"/>
<rect x="718" y="782" width="12" height="1" fill="#0000ff"/>
<rect x="730" y="781" width="12" height="1" fill="#0000ff"/>
<rect x="742" y="780" width="12" height="1" fill="#0000ff"/>
<rect x="754" y="779" width="12" height="1" fill="#0000ff"/>
<rect x="766" y="778" width="13" height="1" fill="#0000ff"/>
<rect x="779" y="777" width="12" height="1" fill="#0000ff"/>
<rect x="791" y="776" width="12" height="1" fill="#0000ff"/>
<rect x="803" y="775" width="12" height="1" fill="#0000ff"/>
<rect x="815" y="774" width="12" height="1" fill="#0000ff"/>
<rect x="827" y="773" width="12" height="1" fill="#0000ff"/>
<rect x="839" y="772" width="12" height="1" fill="#0000ff"/>
<rect x="851" y="771" width="12" height="1" fill="#0000ff"/>
<rect x="863" y="770" width="12" height="1" fill="#0000ff"/>
<rect x="875" y="769" width="12" height="1" fill="#0000ff"/>
<rect x="887" y="768" width="13" height="1" fill="#0000ff"/>
<rect x="900" y="767" width="12" height="1" fill="#0000ff"/>
<rect x="912" y="766" width="12" height="1" fill="#0000ff"/>
<rect x="924" y="765" width="12" height="1" fill="#0000ff"/>
<rect x="936" y="764" width="12" height="1" fill="#0000ff"/>
<rect x="948" y="763" width="12" height="1" fill="#0000ff"/>
<rect x="960" y="762" width="12" height="1" fill="#0000ff"/>
<rect x="972" y="761" width="12" height="1" fill="#0000ff"/>
<rect x="984" y="760" width="12" height="1" fill="#0000ff"/>
<rect x="996" y="759" width="12" height="1" fill="#0000ff"/>
<rect x="1008" y="758" width="13" height="1" fill="#0000ff"/>
<rect x="1021" y="757" width="12" height="1" fill="#0000ff"/>
<rect x="1033" y="756" width="12" height="1" fill="#0000ff"/>
<rect x="1045" y="755" width="12" height="1" fill="#0000ff"/>
<rect x="1057" y="754" width="12" height="1" fill="#0000ff"/>
<rect x="1069" y="753" width="12" height="1" fill="#0000ff"/>
<rect x="1081" y="752" width="12" height="1" fill="#0000ff"/>
<rect x="1093" y="751" width="12" height="1" fill="#0000ff"/>
<rect x="1105" y="750" width="12" height="1" fill="#0000ff"/>
<rect x="1117" y="749" width="12" height="1" fill="#0000ff"/>
<rect x="1129" y="748" width="13" height="1" fill="#0000ff"/>
<rect x="1142" y="747" width="12" height="1" fill="#0000ff"/>
<rect x="1154" y="746" width="12" height="1" fill="#0000ff"/>
<rect x="1166" y="745" width="12" height="1" fill="#0000ff"/>
<rect x="1178" y="744" width="12" height="1" fill="#0000ff"/>
<rect x="1190" y="743" width="12" height="1" fill="#0000ff"/>
<rect x="1202" y="742" width="12" height="1" fill="#0000ff"/>
<rect x="1214" y="741" width="12" height="1" fill="#0000ff"/>
<rect x="1226" y="740" width="12" height="1" fill="#0000ff"/>
<rect x="1238" y="739" width="12" height="1" fill="#0000ff"/>
<rect x="1250" y="738" width="13" height="1" fill="#0000ff"/>
<rect x="1263" y="737" width="12" height="1" fill="#0000ff"/>
<rect x="1275" y="736" width="12" height="1" fill="#0000ff"/>
<rect x="1287" y="735" width="12" height="1" fill="#0000ff"/>
<rect x="1299" y="734" width="12" height="1" fill="#0000ff"/>
<rect x="1311" y="733" width="12" height="1" fill="#0000ff"/>
<rect x="1323" y="732" width="12" height="1" fill="#0000ff"/>
<rect x="1335" y="731" width="12" height="1" fill="#0000ff"/>
<rect x="1347" y="730" width="12" height="1" fill="#0000ff"/>
<rect x="1359" y="729" width="12" height="1" fill="#0000ff"/>
<rect x="1371" y="728" width="13" height="1" fill="#0000ff"/>
<rect x="1384" y="727" width="12" height="1" fill="#0000ff"/>
<rect x="1396" y="726" width="12" height="1" fill="#0000ff"/>
<rect x="1408" y="725" width="12" height="1" fill="#0000ff"/>
<rect x="1420" y="724" width="12" height="1" fill="#0000ff"/>
<rect x="1432" y="723" width="12" height="1" fill="#0000ff"/>
<rect x="1444" y="722" width="12" height="1" fill="#0000ff"/>
<rect x="1456" y="721" width="12" height="1" fill="#0000ff"/>
<rect x="1468" y="720" width="12" height="1" fill="#0000ff"/>
<rect x="1480" y="719" width="12" height="1" fill="#0000ff"/>
<rect x="1492" y="718" width="13" height="1" fill="#0000ff"/>
<rect x="1505" y="717" width="12" height="1" fill="#0000ff"/>
<rect x="1517" y="716" width="12" height="1" fill="#0000ff"/>
<rect x="1529" y="715" width="12" height="1" fill="#0000ff"/>
<rect x="1541" y="714" width="12" height="1" fill="#0000ff"/>
<rect x="1553" y="713" width="12" height="1" fill="#0000ff"/>
<rect x="1565" y="712" width="12" height="1" fill="#0000ff"/>
<rect x="1577" y="711" width="12" height="1" fill="#0000ff"/>
<rect x="1589" y="710" width="12" height="1" fill="#0000ff"/>
<rect x="1601" y="709" width="12" height="1" fill="#0000ff"/>
<rect x="1613" y="708" width="7" height="1" fill="#0000ff"/>
<rect x="0" y="871" width="1848" height="1" fill="#000"/>
<rect x="1847" y="0" width="1" height="872" fill="#000"/>
<rect x="1848" y="869" width="2" height="1" fill="#000"/>
<rect x="1848" y="866" width="2" height="1" fill="#000"/>
<rect x="1848" y="863" width="2" height="1" fill="#000"/>
<rect x="1848" y="860" width="2" height="1" fill="#000"/>
<rect x="1848" y="857" width="5" height="1" fill="#000"/>
<rect x="1848" y="854" width="2" height="1" fill="#000"/>
<rect x="1848" y="851" width="2" height="1" fill="#000"/>
<rect x="1848" y="848" width="2" height="1" fill="#000"/>
<rect x="1848" y="845" width="2" height="1" fill="#000"/>
<rect x="1848" y="842" width="5" height="1" fill="#000"/>
<rect x="1848" y="839" width="2" height="1" fill="#000"/>
<rect x="1848" y="836" width="2" height="1" fill="#000"/>
<rect x="1848" y="832" width="2" height="1" fill="#000"/>
<rect x="1848" y="829" width="2" height="1" fill="#000"/>
<rect x="1848" y="826" width="5" height="1" fill="#000"/>
<rect x="1848" y="823" width="2" height="1" fill="#000"/>
<rect x="1848" y="820" width="2" height="1" fill="#000"/>
<rect x="1848" y="817" width="2" height="1" fill="#000"/>
<rect x="1848" y="814" width="2" height="1" fill="#000"/>
<rect x="1848" y="811" width="5" height="1" fill="#000"/>
<rect x="1848" y="808" width="2" height="1" fill="#000"/>
<rect x="1848" y="805" width="2" height="1" fill="#000"/>
<rect x="1848" y="802" width="2" height="1" fill="#000"/>
<rect x="1848" y="799" width="2" height="1" fill="#000"/>
<rect x="1848" y="796" width="5" height="1" fill="#000"/>
<rect x="1848" y="793" width="2" height="1" fill="#000"/>
<rect x="1848" y="789" width="2" height="1" fill="#000"/>
<rect x="1848" y="786" width="2" height="1" fill="#000"/>
<rect x="1848" y="783" width="2" height="1" fill="#000"/>
<rect x="1848" y="780" width="5" height="1" fill="#000"/>
<rect x="1848" y="777" width="2" height="1" fill="#000"/>
<rect x="1848" y="774" width="2" height="1" fill="#000"/>
<rect x="1848" y="771" width="2" height="1" fill="#000"/>
<rect x="1848" y="768" width="2" height="1" fill="#000"/>
<rect x="1848" y="765" width="5" height="1" fill="#000"/>
<rect x="1848" y="762" width="2" height="1" fill="#000"/>
<rect x="1848" y="759" width="2" height="1" fill="#000"/>
<rect x="1848" y="756" width="2" height="1" fill="#000"/>
<rect x="1848" y="753" width="2" height="1" fill="#000"/>
<rect x="1848" y="750" width="5" height="1" fill="#000"/>
<rect x="1848" y="747" width="2" height="1" fill="#000"/>
<rect x="1848" y="743" width="2" height="1" fill="#000"/>
<rect x="1848" y="740" width="2" height="1" fill="#000"/>
<rect x="1848" y="737" width="2" height="1" fill="#000"/>
<rect x="1848" y="734" width="5" height="1" fill="#000"/>
<rect x="1848" y="731" width="2" height="1" fill="#000"/>
<rect x="1848" y="728" width="2" height="1" fill="#000"/>
<rect x="1848" y="725" width="2" height="1" fill="#000"/>
<rect x="1848" y="722" width="2" height="1" fill="#000"/>
<rect x="1848" y="719" width="5" height="1" fill="#000"/>
<rect x="1848" y="716" width="2" height="1" fill="#000"/>
<rect x="1848" y="713" width="2" height="1" fill="#000"/>
<rect x="1848" y="710" width="2" height="1" fill="#000"/>
<rect x="1848" y="707" width="2" height="1" fill="#000"/>
<rect x="1848" y="704" width="5" height="1" fill="#000"/>
<rect x="1848" y="700" width="2" height="1" fill="#000"/>
<rect x="1848" y="697" width="2" height="1" fill="#000"/>
<rect x="1848" y="694" width="2" height="1" fill="#000"/>
<rect x="1848" y="691" width="2" height="1" fill="#000"/>
<rect x="1848" y="688" width="5" height="1" fill="#000"/>
<rect x="1848" y="685" width="2" height="1" fill="#000"/>
<rect x="1848" y="682" width="2" height="1" fill="#000"/>
<rect x="1848" y="679" width="2" height="1" fill="#000"/>
<rect x="1848" y="676" width="2" height="1" fill="#000"/>
<rect x="1848" y="673" width="5" height="1" fill="#000"/>
<rect x="1848" y="670" width="2" height="1" fill="#000"/>
<rect x="1848" y="667" width="2" height="1" fill="#000"/>
<rect x="1848" y="664" width="2" height="1" fill="#000"/>
<rect x="1848" y="661" width="2" height="1" fill="#000"/>
<rect x="1848" y="657" width="5" height="1" fill="#000"/>
<rect x="1848" y="654" width="2" height="1" fill="#000"/>
<rect x="1848" y="651" width="2" height="1" fill="#000"/>
<rect x="1848" y="648" width="2" height="1" fill="#000"/>
<rect x="1848" y="645" width="2" height="1" fill="#000"/>
<rect x="1848" y="642" width="5" height="1" fill="#000"/>
<rect x="1848" y="639" width="2" height="1" fill="#000"/>
<rect x="1848" y="636" width="2" height="1" fill="#000"/>
<rect x="1848" y="633" width="2" height="1" fill="#000"/>
<rect x="1848" y="630" width="2" height="1" fill="#000"/>
<rect x="1848" y="627" width="5" height="1" fill="#000"/>
<rect x="1848" y="624" width="2" height="1" fill="#000"/>
<rect x="1848" y="621" width="2" height="1" fill="#000"/>
<rect x="1848" y="618" width="2" height="1" fill="#000"/>
<rect x="1848" y="615" width="2" height="1" fill="#000"/>
<rect x="1848" y="611" width="5" height="1" fill="#000"/>
<rect x="1848" y="608" width="2" height="1" fill="#000"/>
<rect x="1848" y="605" width="2" height="1" fill="#000"/>
<rect x="1848" y="602" width="2" height="1" fill="#000"/>
<rect x="1848" y="599" width="2" height="1" fill="#000"/>
<rect x="1848" y="596" width="5" height="1" fill="#000"/>
<rect x="1848" y="593" width="2" height="1" fill="#000"/>
<rect x="1848" y="590" width="2" height="1" fill="#000"/>
<rect x="1848" y="587" width="2" height="1" fill="#000"/>
<rect x="1848" y="584" width="2" height="1" fill="#000"/>
<rect x="1848" y="581" width="5" height="1" fill="#000"/>
<rect x="1848" y="578" width="2" height="1" fill="#000"/>
<rect x="1848" y="575" width="2" height="1" fill="#000"/>
<rect x="1848" y="572" width="2" height="1" fill="#000"/>
<rect x="1848" y="568" width="2" height="1" fill="#000"/>
<rect x="1848" y="565" width="5" height="1" fill="#000"/>
<rect x="1848" y="562" width="2" height="1" fill="#000"/>
<rect x="1848" y="559" width="2" height="1" fill="#000"/>
<rect x="1848" y="556" width="2" height="1" fill="#000"/>
<rect x="1848" y="553" width="2" height="1" fill="#000"/>
<rect x="1848" y="550" width="5" height="1" fill="#000"/>
<rect x="1848" y="547" width="2" height="1" fill="#000"/>
<rect x="1848" y="544" width="2" height="1" fill="#000"/>
<rect x="1848" y="541" width="2" height="1" fill="#000"/>
<rect x="1848" y="538" width="2" height="1" fill="#000"/>
<rect x="1848" y="535" width="5" height="1" fill="#000"/>
<rect x="1848" y="532" width="2" height="1" fill="#000"/>
<rect x="1848" y="529" width="2" height="1" fill="#000"/>
<rect x="1848" y="526" width="2" height="1" fill="#000"/>
<rect x="1848" y="522" width="2" height="1" fill="#000"/>
<rect x="1848" y="519" width="5" height="1" fill="#000"/>
<rect x="1848" y="516" width="2" height="1" fill="#000"/>
<rect x="1848" y="513" width="2" height="1" fill="#000"/>
<rect x="1848" y="510" width="2" height="1" fill="#000"/>
<rect x="1848" y="507" width="2" height="1" fill="#000"/>
<rect x="1848" y="504" width="5" height="1" fill="#000"/>
<rect x="1848" y="501" width="2" height="1" fill="#000"/>
<rect x="1848" y="498" width="2" height="1" fill="#000"/>
<rect x="1848" y="495" width="2" height="1" fill="#000"/>
<rect x="1848" y="492" width="2" height="1" fill="#000"/>
<rect x="1848" y="489" width="5" height="1" fill="#000"/>
<rect x="1848" y="486" width="2" height="1" fill="#000"/>
<rect x="1848" y="483" width="2" height="1" fill="#000"/>
<rect x="1848" y="479" width="2" height="1" fill="#000"/>
<rect x="1848" y="476" width="2" height="1" fill="#000"/>
<rect x="1848" y="473" width="5" height="1" fill="#000"/>
<rect x="1848" y="470" width="2" height="1" fill="#000"/>
<rect x="1848" y="467" width="2" height="1" fill="#000"/>
<rect x="1848" y="464" width="2" height="1" fill="#000"/>
<rect x="1848" y="461" width="2" height="1" fill="#000"/>
<rect x="1848" y="458" width="5" height="1" fill="#000"/>
<rect x="1848" y="455" width="2" height="1" fill="#000"/>
<rect x="1848" y="452" width="2" height="1" fill="#000"/>
<rect x="1848" y="449" width="2" height="1" fill="#000"/>
<rect x="1848" y="446" width="2" height="1" fill="#000"/>
<rect x="1848" y="443" width="5" height="1" fill="#000"/>
<rect x="1848" y="440" width="2" height="1" fill="#000"/>
<rect x="1848" y="436" width="2" height="1" fill="#000"/>
<rect x="1848" y="433" width="2" height="1" fill="#000"/>
<rect x="1848" y="430" width="2" height="1" fill="#000"/>
<rect x="1848" y="427" width="5" height="1" fill="#000"/>
<rect x="1848" y="424" width="2" height="1" fill="#000"/>
<rect x="1848" y="421" width="2" height="1" fill="#000"/>
<rect x="1848" y="418" width="2" height="1" fill="#000"/>
<rect x="1848" y="415" width="2" height="1" fill="#000"/>
<rect x="1848" y="412" width="5" height="1" fill="#000"/>
<rect x="1848" y="409" width="2" height="1" fill="#000"/>
<rect x="1848" y="406" width="2" height="1" fill="#000"/>
<rect x="1848" y="403" width="2" height="1" fill="#000"/>
<rect x="1848" y="400" width="2" height="1" fill="#000"/>
<rect x="1848" y="397" width="5" height="1" fill="#000"/>
<rect x="1848" y="394" width="2" height="1" fill="#000"/>
<rect x="1848" y="390" width="2" height="1" fill="#000"/>
<rect x="1848" y="387" width="2" height="1" fill="#000"/>
<rect x="1848" y="384" width="2" height="1" fill="#000"/>
<rect x="1848" y="381" width="5" height="1" fill="#000"/>
<rect x="1848" y="378" width="2" height="1" fill="#000"/>
<rect x="1848" y="375" width="2" height="1" fill="#000"/>
<rect x="1848" y="372" width="2" height="1" fill="#000"/>
<rect x="1848" y="369" width="2" height="1" fill="#000"/>
<rect x="1848" y="366" width="5" height="1" fill="#000"/>
<rect x="1848" y="363" width="2" height="1" fill="#000"/>
<rect x="1848" y="360" width="2" height="1" fill="#000"/>
<rect x="1848" y="357" width="2" height="1" fill="#000"/>
<rect x="1848" y="354" width="2" height="1" fill="#000"/>
<rect x="1848" y="351" width="5" height="1" fill="#000"/>
<rect x="1848" y="347" width="2" height="1" fill="#000"/>
<rect x="1848" y="344" width="2" height="1" fill="#000"/>
<rect x="1848" y="341" width="2" height="1" fill="#000"/>
<rect x="1848" y="338" width="2" height="1" fill="#000"/>
<rect x="1848" y="335" width="5" height="1" fill="#000"/>
<rect x="1848" y="332" width="2" height="1" fill="#000"/>
<rect x="1848" y="329" width="2" height="1" fill="#000"/>
<rect x="1848" y="326" width="2" height="1" fill="#000"/>
<rect x="1848" y="323" width="2" height="1" fill="#000"/>
<rect x="1848" y="320" width="5" height="1" fill="#000"/>
<rect x="1848" y="317" width="2" height="1" fill="#000"/>
<rect x="1848" y="314" width="2" height="1" fill="#000"/>
<rect x="1848" y="311" width="2" height="1" fill="#000"/>
<rect x="1848" y="308" width="2" height="1" fill="#000"/>
<rect x="1848" y="305" width="5" height="1" fill="#000"/>
<rect x="1848" y="301" width="2" height="1" fill="#000"/>
<rect x="1848" y="298" width="2" height="1" fill="#000"/>
<rect x="1848" y="295" width="2" height="1" fill="#000"/>
<rect x="1848" y="292" width="2" height="1" fill="#000"/>
<rect x="1848" y="289" width="5" height="1" fill="#000"/>
<rect x="1848" y="286" width="2" height="1" fill="#000"/>
<rect x="1848" y="283" width="2" height="1" fill="#000"/>
<rect x="1848" y="280" width="2" height="1" fill="#000"/>
<rect x="1848" y="277" width="2" height="1" fill="#000"/>
<rect x="1848" y="274" width="5" height="1" fill="#000"/>
<rect x="1848" y="271" width="2" height="1" fill="#000"/>
<rect x="1848" y="268" width="2" height="1" fill="#000"/>
<rect x="1848" y="265" width="2" height="1" fill="#000"/>
<rect x="1848" y="262" width="2" height="1" fill="#000"/>
<rect x="1848" y="258" width="5" height="1" fill="#000"/>
<rect x="1848" y="255" width="2" height="1" fill="#000"/>
<rect x="1848" y="252" width="2" height="1" fill="#000"/>
<rect x="1848" y="249" width="2" height="1" fill="#000"/>
<rect x="1848" y="246" width="2" height="1" fill="#000"/>
<rect x="1848" y="243" width="5" height="1" fill="#000"/>
<rect x="1848" y="240" width="2" height="1" fill="#000"/>
<rect x="1848" y="237" width="2" height="1" fill="#000"/>
<rect x="1848" y="234" width="2" height="1" fill="#000"/>
<rect x="1848" y="231" width="2" height="1" fill="#000"/>
<rect x="1848" y="228" width="5" height="1" fill="#000"/>
<rect x="1848" y="225" width="2" height="1" fill="#000"/>
<rect x="1848" y="222" width="2" height="1" fill="#000"/>
<rect x="1848" y="219" width="2" height="1" fill="#000"/>
<rect x="1848" y="215" width="2" height="1" fill="#000"/>
<rect x="1848" y="212" width="5" height="1" fill="#000"/>
<rect x="1848" y="209" width="2" height="1" fill="#000"/>
<rect x="1848" y="206" width="2" height="1" fill="#000"/>
<rect x="1848" y="203" width="2" height="1" fill="#000"/>
<rect x="1848" y="200" width="2" height="1" fill="#000"/>
<rect x="1848" y="197" width="5" height="1" fill="#000"/>
<rect x="1848" y="194" width="2" height="1" fill="#000"/>
<rect x="1848" y="191" width="2" height="1" fill="#000"/>
<rect x="1848" y="188" width="2" height="1" fill="#000"/>
<rect x="1848" y="185" width="2" height="1" fill="#000"/>
<rect x="1848" y="182" width="5" height="1" fill="#000"/>
<rect x="1848" y="179" width="2" height="1" fill="#000"/>
<rect x="1848" y="176" width="2" height="1" fill="#000"/>
<rect x="1848" y="173" width="2" height="1" fill="#000"/>
<rect x="1848" y="169" width="2" height="1" fill="#000"/>
<rect x="1848" y="166" width="5" height="1" fill="#000"/>
<rect x="1848" y="163" width="2" height="1" fill="#000"/>
<rect x="1848" y="160" width="2" height="1" fill="#000"/>
<rect x="1848" y="157" width="2" height="1" fill="#000"/>
<rect x="1848" y="154" width="2" height="1" fill="#000"/>
<rect x="1848" y="151" width="5" height="1" fill="#000"/>
<rect x="1848" y="148" width="2" height="1" fill="#000"/>
<rect x="1848" y="145" width="2" height="1" fill="#000"/>
<rect x="1848" y="142" width="2" height="1" fill="#000"/>
<rect x="1848" y="139" width="2" height="1" fill="#000"/>
<rect x="1848" y="136" width="5" height="1" fill="#000"/>
<rect x="1848" y="133" width="2" height="1" fill="#000"/>
<rect x="1848" y="130" width="2" height="1" fill="#000"/>
<rect x="1848" y="126" width="2" height="1" fill="#000"/>
<rect x="1848" y="123" width="2" height="1" fill="#000"/>
<rect x="1848" y="120" width="5" height="1" fill="#000"/>
<rect x="1848" y="117" width="2" height="1" fill="#000"/>
<rect x="1848" y="114" width="2" height="1" fill="#000"/>
<rect x="1848" y="111" width="2" height="1" fill="#000"/>
<rect x="1848" y="108" width="2" height="1" fill="#000"/>
<rect x="1848" y="105" width="5" height="1" fill="#000"/>
<rect x="1848" y="102" width="2" height="1" fill="#000"/>
<rect x="1848" y="99" width="2" height="1" fill="#000"/>
<rect x="1848" y="96" width="2" height="1" fill="#000"/>
<rect x="1848" y="93" width="2" height="1" fill="#000"/>
<rect x="1848" y="90" width="5" height="1" fill="#000"/>
<rect x="1848" y="87" width="2" height="1" fill="#000"/>
<rect x="1848" y="83" width="2" height="1" fill="#000"/>
<rect x="1848" y="80" width="2" height="1" fill="#000"/>
<rect x="1848" y="77" width="2" height="1" fill="#000"/>
<rect x="1848" y="74" width="5" height="1" fill="#000"/>
<rect x="1848" y="71" width="2" height="1" fill="#000"/>
<rect x="1848" y="68" width="2" height="1" fill="#000"/>
<rect x="1848" y="65" width="2" height="1" fill="#000"/>
<rect x="1848" y="62" width="2" height="1" fill="#000"/>
<rect x="1848" y="59" width="5" height="1" fill="#000"/>
<rect x="1848" y="56" width="2" height="1" fill="#000"/>
<rect x="1848" y="53" width="2" height="1" fill="#000"/>
<rect x="1848" y="50" width="2" height="1" fill="#000"/>
<rect x="1848" y="47" width="2" height="1" fill="#000"/>
<rect x="1848" y="44" width="5" height="1" fill="#000"/>
<rect x="1848" y="41" width="2" height="1" fill="#000"/>
<rect x="1848" y="37" width="2" height="1" fill="#000"/>
<rect x="1848" y="34" width="2" height="1" fill="#000"/>
<rect x="1848" y="31" width="2" height="1" fill="#000"/>
<rect x="1848" y="28" width="5" height="1" fill="#000"/>
<rect x="1848" y="25" width="2" height="1" fill="#000"/>
<rect x="1848" y="22" width="2" height="1" fill="#000"/>
<rect x="1848" y="19" width="2" height="1" fill="#000"/>
<rect x="1848" y="16" width="2" height="1" fill="#000"/>
<rect x="1848" y="13" width="5" height="1" fill="#000"/>
<rect x="1848" y="10" width="2" height="1" fill="#000"/>
<rect x="1848" y="7" width="2" height="1" fill="#000"/>
<rect x="1848" y="4" width="2" height="1" fill="#000"/>
<rect x="1848" y="1" width="2" height="1" fill="#000"/>
<rect x="15" y="871" width="1" height="5" fill="#000"/>
<rect x="32" y="871" width="1" height="5" fill="#000"/>
<rect x="49" y="871" width="1" height="5" fill="#000"/>
<rect x="67" y="871" width="1" height="5" fill="#000"/>
<rect x="84" y="871" width="1" height="5" fill="#000"/>
<rect x="101" y="871" width="1" height="5" fill="#000"/>
<rect x="118" y="871" width="1" height="5" fill="#000"/>
<rect x="135" y="871" width="1" height="5" fill="#000"/>
<rect x="153" y="871" width="1" height="5" fill="#000"/>
<rect x="170" y="871" width="1" height="5" fill="#000"/>
<rect x="187" y="871" width="1" height="5" fill="#000"/>
<rect x="204" y="871" width="1" height="5" fill="#000"/>
<rect x="221" y="871" width="1" height="5" fill="#000"/>
<rect x="239" y="871" width="1" height="5" fill="#000"/>
<rect x="253" y="871" width="1" height="5" fill="#000"/>
<rect x="263" y="871" width="1" height="5" fill="#000"/>
<rect x="276" y="871" width="1" height="5" fill="#000"/>
<rect x="294" y="871" width="1" height="5" fill="#000"/>
<rect x="311" y="871" width="1" height="5" fill="#000"/>
<rect x="328" y="871" width="1" height="5" fill="#000"/>
<rect x="342" y="871" width="1" height="5" fill="#000"/>
<rect x="359" y="871" width="1" height="5" fill="#000"/>
<rect x="376" y="871" width="1" height="5" fill="#000"/>
<rect x="393" y="871" width="1" height="5" fill="#000"/>
<rect x="411" y="871" width="1" height="5" fill="#000"/>
<rect x="428" y="871" width="1" height="5" fill="#000"/>
<rect x="445" y="871" width="1" height="5" fill="#000"/>
<rect x="462" y="871" width="1" height="5" fill="#000"/>
<rect x="480" y="871" width="1" height="5" fill="#000"/>
<rect x="497" y="871" width="1" height="5" fill="#000"/>
<rect x="514" y="871" width="1" height="5" fill="#000"/>
<rect x="531" y="871" width="1" height="5" fill="#000"/>
<rect x="548" y="871" width="1" height="5" fill="#000"/>
<rect x="562" y="871" width="1" height="5" fill="#000"/>
<rect x="579" y="871" width="1" height="5" fill="#000"/>
<rect x="596" y="871" width="1" height="5" fill="#000"/>
<rect x="613" y="871" width="1" height="5" fill="#000"/>
<rect x="631" y="871" width="1" height="5" fill="#000"/>
<rect x="648" y="871" width="1" height="5" fill="#000"/>
<rect x="665" y="871" width="1" height="5" fill="#000"/>
<rect x="682" y="871" width="1" height="5" fill="#000"/>
<rect x="699" y="871" width="1" height="5" fill="#000"/>
<rect x="717" y="871" width="1" height="5" fill="#000"/>
<rect x="734" y="871" width="1" height="5" fill="#000"/>
<rect x="751" y="871" width="1" height="5" fill="#000"/>
<rect x="768" y="871" width="1" height="5" fill="#000"/>
<rect x="785" y="871" width="1" height="5" fill="#000"/>
<rect x="803" y="871" width="1" height="5" fill="#000"/>
<rect x="820" y="871" width="1" height="5" fill="#000"/>
<rect x="837" y="871" width="1" height="5" fill="#000"/>
<rect x="847" y="871" width="1" height="5" fill="#000"/>
<rect x="861" y="871" width="1" height="5" fill="#000"/>
<rect x="878" y="871" width="1" height="5" fill="#000"/>
<rect x="896" y="871" width="1" height="5" fill="#000"/>
<rect x="913" y="871" width="1" height="5" fill="#000"/>
<rect x="930" y="871" width="1" height="5" fill="#000"/>
<rect x="947" y="871" width="1" height="5" fill="#000"/>
<rect x="964" y="871" width="1" height="5" fill="#000"/>
<rect x="982" y="871" width="1" height="5" fill="#000"/>
<rect x="999" y="871" width="1" height="5" fill="#000"/>
<rect x="1016" y="871" width="1" height="5" fill="#000"/>
<rect x="1033" y="871" width="1" height="5" fill="#000"/>
<rect x="1050" y="871" width="1" height="5" fill="#000"/>
<rect x="1067" y="871" width="1" height="5" fill="#000"/>
<rect x="1081" y="871" width="1" height="5" fill="#000"/>
<rect x="1095" y="871" width="1" height="5" fill="#000"/>
<rect x="1112" y="871" width="1" height="5" fill="#000"/>
<rect x="1129" y="871" width="1" height="5" fill="#000"/>
<rect x="1147" y="871" width="1" height="5" fill="#000"/>
<rect x="1160" y="871" width="1" height="5" fill="#000"/>
<rect x="1178" y="871" width="1" height="5" fill="#000"/>
<rect x="1195" y="871" width="1" height="5" fill="#000"/>
<rect x="1212" y="871" width="1" height="5" fill="#000"/>
<rect x="1222" y="871" width="1" height="5" fill="#000"/>
<rect x="1239" y="871" width="1" height="5" fill="#000"/>
<rect x="1257" y="871" width="1" height="5" fill="#000"/>
<rect x="1274" y="871" width="1" height="5" fill="#000"/>
<rect x="1291" y="871" width="1" height="5" fill="#000"/>
<rect x="1308" y="871" width="1" height="5" fill="#000"/>
<rect x="1325" y="871" width="1" height="5" fill="#000"/>
<rect x="1343" y="871" width="1" height="5" fill="#000"/>
<rect x="1360" y="871" width="1" height="5" fill="#000"/>
<rect x="1377" y="871" width="1" height="5" fill="#000"/>
<rect x="1394" y="871" width="1" height="5" fill="#000"/>
<rect x="1411" y="871" width="1" height="5" fill="#000"/>
<rect x="1425" y="871" width="1" height="5" fill="#000"/>
<rect x="1442" y="871" width="1" height="5" fill="#000"/>
<rect x="1460" y="871" width="1" height="5" fill="#000"/>
<rect x="1477" y="871" width="1" height="5" fill="#000"/>
<rect x="1494" y="871" width="1" height="5" fill="#000"/>
<rect x="1511" y="871" width="1" height="5" fill="#000"/>
<rect x="1528" y="871" width="1" height="5" fill="#000"/>
<rect x="1546" y="871" width="1" height="5" fill="#000"/>
<rect x="1563" y="871" width="1" height="5" fill="#000"/>
<rect x="1580" y="871" width="1" height="5" fill="#000"/>
<rect x="1597" y="871" width="1" height="5" fill="#000"/>
<rect x="1614" y="871" width="1" height="5" fill="#000"/>
<rect x="1632" y="871" width="1" height="5" fill="#000"/>
<rect x="1648" y="871" width="1" height="5" fill="#000"/>
<rect x="1666" y="871" width="1" height="5" fill="#000"/>
<rect x="1683" y="871" width="1" height="5" fill="#000"/>
<rect x="1700" y="871" width="1" height="5" fill="#000"/>
<rect x="1711" y="871" width="1" height="5" fill="#000"/>
<rect x="1724" y="871" width="1" height="5" fill="#000"/>
<rect x="1742" y="871" width="1" height="5" fill="#000"/>
<rect x="1759" y="871" width="1" height="5" fill="#000"/>
<rect x="1776" y="871" width="1" height="5" fill="#000"/>
<rect x="1793" y="871" width="1" height="5" fill="#000"/>
<rect x="1810" y="871" width="1" height="5" fill="#000"/>
<rect x="1828" y="871" width="1" height="5" fill="#000"/>
<rect x="1845" y="871" width="1" height="5" fill="#000"/>
<rect x="53" y="871" width="1" height="14" fill="#000"/>
<rect x="122" y="871" width="1" height="14" fill="#000"/>
<rect x="201" y="871" width="1" height="14" fill="#000"/>
<rect x="263" y="871" width="1" height="14" fill="#000"/>
<rect x="331" y="871" width="1" height="14" fill="#000"/>
<rect x="407" y="871" width="1" height="14" fill="#000"/>
<rect x="480" y="871" width="1" height="14" fill="#000"/>
<rect x="555" y="871" width="1" height="14" fill="#000"/>
<rect x="631" y="871" width="1" height="14" fill="#000"/>
<rect x="703" y="871" width="1" height="14" fill="#000"/>
<rect x="779" y="871" width="1" height="14" fill="#000"/>
<rect x="847" y="871" width="1" height="14" fill="#000"/>
<rect x="920" y="871" width="1" height="14" fill="#000"/>
<rect x="992" y="871" width="1" height="14" fill="#000"/>
<rect x="1067" y="871" width="1" height="14" fill="#000"/>
<rect x="1133" y="871" width="1" height="14" fill="#000"/>
<rect x="1208" y="871" width="1" height="14" fill="#000"/>
<rect x="1274" y="871" width="1" height="14" fill="#000"/>
<rect x="1350" y="871" width="1" height="14" fill="#000"/>
<rect x="1425" y="871" width="1" height="14" fill="#000"/>
<rect x="1494" y="871" width="1" height="14" fill="#000"/>
<rect x="1573" y="871" width="1" height="14" fill="#000"/>
<rect x="1648" y="871" width="1" height="14" fill="#000"/>
<rect x="1714" y="871" width="1" height="14" fill="#000"/>
<rect x="1790" y="871" width="1" height="14" fill="#000"/>
</svg>
<div class="yl" style="top:853.3px">595</div>
<div class="yl" style="top:838.0px">600</div>
<div class="yl" style="top:822.6px">605</div>
<div class="yl" style="top:807.3px">610</div>
<div class="yl" style="top:791.9px">615</div>
<div class="yl" style="top:776.6px">620</div>
<div class="yl" style="top:761.2px">625</div>
<div class="yl" style="top:745.9px">630</div>
<div class="yl" style="top:730.5px">635</div>
<div class="yl" style="top:715.2px">640</div>
<div class="yl" style="top:699.8px">645</div>
<div class="yl" style="top:684.5px">650</div>
<div class="yl" style="top:669.1px">655</div>
<div class="yl" style="top:653.8px">660</div>
<div class="yl" style="top:638.4px">665</div>
<div class="yl" style="top:623.1px">670</div>
<div class="yl" style="top:607.8px">675</div>
<div class="yl" style="top:592.4px">680</div>
<div class="yl" style="top:577.1px">685</div>
<div class="yl" style="top:561.7px">690</div>
<div class="yl" style="top:546.4px">695</div>
<div class="yl" style="top:531.0px">700</div>
<div class="yl" style="top:515.7px">705</div>
<div class="yl" style="top:500.3px">710</div>
<div class="yl" style="top:485.0px">715</div>
<div class="yl" style="top:469.6px">720</div>
<div class="yl" style="top:454.3px">725</div>
<div class="yl" style="top:438.9px">730</div>
<div class="yl" style="top:423.6px">735</div>
<div class="yl" style="top:408.2px">740</div>
<div class="yl" style="top:392.9px">745</div>
<div class="yl" style="top:377.5px">750</div>
<div class="yl" style="top:362.2px">755</div>
<div class="yl" style="top:346.8px">760</div>
<div class="yl" style="top:331.5px">765</div>
<div class="yl" style="top:316.1px">770</div>
<div class="yl" style="top:300.8px">775</div>
<div class="yl" style="top:285.5px">780</div>
<div class="yl" style="top:270.1px">785</div>
<div class="yl" style="top:254.8px">790</div>
<div class="yl" style="top:239.4px">795</div>
<div class="yl" style="top:224.1px">800</div>
<div class="yl" style="top:208.7px">805</div>
<div class="yl" style="top:193.4px">810</div>
<div class="yl" style="top:178.0px">815</div>
<div class="yl" style="top:162.7px">820</div>
<div class="yl" style="top:147.3px">825</div>
<div class="yl" style="top:132.0px">830</div>
<div class="yl" style="top:116.6px">835</div>
<div class="yl" style="top:101.3px">840</div>
<div class="yl" style="top:85.9px">845</div>
<div class="yl" style="top:70.6px">850</div>
<div class="yl" style="top:55.2px">855</div>
<div class="yl" style="top:39.9px">860</div>
<div class="yl" style="top:24.5px">865</div>
<div class="yl" style="top:9.2px">870</div>
<div class="xl" style="left:55px">February</div>
<div class="xl" style="left:124px">March</div>
<div class="xl" style="left:203px">April</div>
<div class="xl" style="left:265px">May</div>
<div class="xl" style="left:333px">June</div>
<div class="xl" style="left:409px">July</div>
<div class="xl" style="left:482px">August</div>
<div class="xl" style="left:557px">September</div>
<div class="xl" style="left:633px">October</div>
<div class="xl" style="left:705px">November</div>
<div class="xl" style="left:781px">December</div>
<div class="xl" style="left:849px">2012</div>
<div class="xl" style="left:922px">February</div>
<div class="xl" style="left:994px">March</div>
<div class="xl" style="left:1069px">April</div>
<div class="xl" style="left:1135px">May</div>
<div class="xl" style="left:1210px">June</div>
<div class="xl" style="left:1276px">July</div>
<div class="xl" style="left:1352px">August</div>
<div class="xl" style="left:1427px">September</div>
<div class="xl" style="left:1496px">October</div>
<div class="xl" style="left:1575px">November</div>
<div class="xl" style="left:1650px">December</div>
<div class="xl" style="left:1716px">2013</div>
<div class="xl" style="left:1792px">February</div>
<div class="xl" style="left:1px">1</div>
<div class="ttl">B SKYB (820.500, 833.000 , 820.000, 833.000, +15.0000)</div>
<div class="note">short on&nbsp; first attempt<br>of high</div>
</body></html>
